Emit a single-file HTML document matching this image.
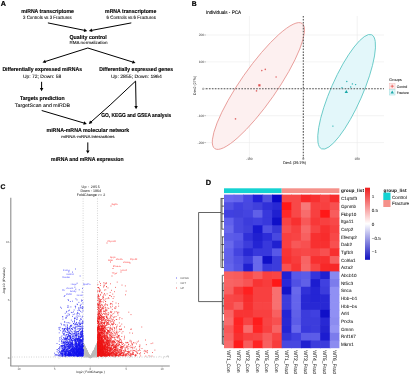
<!DOCTYPE html>
<html><head><meta charset="utf-8"><style>
html,body{margin:0;padding:0;background:#fff;overflow:hidden;}
svg{display:block;font-family:"Liberation Sans", sans-serif;will-change:transform;text-rendering:geometricPrecision;}
</style></head><body>
<svg width="410" height="374" viewBox="0 0 410 374">
<rect width="410" height="374" fill="#fff"/>
<text x="0.70" y="6.00" font-size="7.2" font-weight="bold" stroke="#000" stroke-width="0.2" fill="#000">A</text>
<text x="21.20" y="13.05" font-size="5.6" font-weight="bold" stroke="#000" stroke-width="0.12" textLength="52.70" lengthAdjust="spacingAndGlyphs" fill="#000">miRNA transcriptome</text>
<text x="23.10" y="18.90" font-size="4.8" stroke="#000" stroke-width="0.06" textLength="48.60" lengthAdjust="spacingAndGlyphs" fill="#000">3 Controls vs 3 Fractures</text>
<text x="105.10" y="13.05" font-size="5.6" font-weight="bold" stroke="#000" stroke-width="0.12" textLength="51.20" lengthAdjust="spacingAndGlyphs" fill="#000">mRNA transcriptome</text>
<text x="106.60" y="18.90" font-size="4.8" stroke="#000" stroke-width="0.06" textLength="49.30" lengthAdjust="spacingAndGlyphs" fill="#000">6 Controls vs 6 Fractures</text>
<text x="69.50" y="39.00" font-size="5.6" font-weight="bold" stroke="#000" stroke-width="0.12" textLength="37.30" lengthAdjust="spacingAndGlyphs" fill="#000">Quality control</text>
<text x="69.50" y="44.40" font-size="4.3" stroke="#000" stroke-width="0.06" textLength="38.10" lengthAdjust="spacingAndGlyphs" fill="#000">RMA normalization</text>
<text x="2.40" y="70.70" font-size="5.6" font-weight="bold" stroke="#000" stroke-width="0.12" textLength="79.70" lengthAdjust="spacingAndGlyphs" fill="#000">Differentially expressed miRNAs</text>
<text x="22.90" y="77.70" font-size="4.8" stroke="#000" stroke-width="0.06" textLength="38.40" lengthAdjust="spacingAndGlyphs" fill="#000">Up: 72; Down: 58</text>
<text x="99.20" y="70.70" font-size="5.6" font-weight="bold" stroke="#000" stroke-width="0.12" textLength="73.80" lengthAdjust="spacingAndGlyphs" fill="#000">Differentially expressed genes</text>
<text x="110.90" y="77.70" font-size="4.8" stroke="#000" stroke-width="0.06" textLength="50.90" lengthAdjust="spacingAndGlyphs" fill="#000">Up: 2855; Down: 1964</text>
<text x="19.90" y="100.00" font-size="5.6" font-weight="bold" stroke="#000" stroke-width="0.12" textLength="44.70" lengthAdjust="spacingAndGlyphs" fill="#000">Targets prediction</text>
<text x="14.80" y="107.10" font-size="5.0" stroke="#000" stroke-width="0.06" textLength="55.30" lengthAdjust="spacingAndGlyphs" fill="#000">TargetScan and miRDB</text>
<text x="46.50" y="132.00" font-size="5.6" font-weight="bold" stroke="#000" stroke-width="0.12" textLength="82.70" lengthAdjust="spacingAndGlyphs" fill="#000">miRNA-mRNA molecular network</text>
<text x="61.30" y="138.00" font-size="4.0" stroke="#000" stroke-width="0.06" textLength="53.30" lengthAdjust="spacingAndGlyphs" fill="#000">miRNA-mRNA interactions</text>
<text x="51.10" y="161.00" font-size="5.6" font-weight="bold" stroke="#000" stroke-width="0.12" textLength="72.50" lengthAdjust="spacingAndGlyphs" fill="#000">miRNA and mRNA expression</text>
<text x="101.20" y="117.40" font-size="5.6" font-weight="bold" stroke="#000" stroke-width="0.12" textLength="70.10" lengthAdjust="spacingAndGlyphs" fill="#000">GO, KEGG and GSEA analysis</text>
<line x1="47.90" y1="22.90" x2="84.36" y2="30.32" stroke="#000" stroke-width="1.0"/>
<path d="M87.20 30.90L83.72 31.98L84.41 28.55Z" fill="#000"/>
<line x1="131.30" y1="22.90" x2="91.75" y2="30.36" stroke="#000" stroke-width="1.0"/>
<path d="M88.90 30.90L91.72 28.59L92.37 32.03Z" fill="#000"/>
<line x1="87.80" y1="48.00" x2="45.26" y2="61.52" stroke="#000" stroke-width="1.0"/>
<path d="M42.50 62.40L45.02 59.76L46.08 63.10Z" fill="#000"/>
<line x1="87.80" y1="48.00" x2="132.73" y2="62.04" stroke="#000" stroke-width="1.0"/>
<path d="M135.50 62.90L131.92 63.62L132.97 60.28Z" fill="#000"/>
<line x1="41.60" y1="81.80" x2="41.60" y2="88.30" stroke="#000" stroke-width="1.0"/>
<path d="M41.60 91.20L39.85 88.00L43.35 88.00Z" fill="#000"/>
<line x1="41.70" y1="110.50" x2="84.02" y2="123.07" stroke="#000" stroke-width="1.0"/>
<path d="M86.80 123.90L83.23 124.67L84.23 121.31Z" fill="#000"/>
<line x1="135.60" y1="81.10" x2="110.10" y2="105.00" stroke="#000" stroke-width="1.0"/>
<line x1="110.10" y1="105.00" x2="90.97" y2="121.98" stroke="#000" stroke-width="1.0"/>
<path d="M88.80 123.90L90.03 120.47L92.36 123.09Z" fill="#000"/>
<line x1="135.60" y1="81.10" x2="136.05" y2="106.30" stroke="#000" stroke-width="1.0"/>
<path d="M136.10 109.20L134.29 106.03L137.79 105.97Z" fill="#000"/>
<line x1="87.80" y1="142.40" x2="87.80" y2="150.70" stroke="#000" stroke-width="1.0"/>
<path d="M87.80 153.60L86.05 150.40L89.55 150.40Z" fill="#000"/>
<text x="191.70" y="5.60" font-size="6.8" font-weight="bold" stroke="#000" stroke-width="0.2" fill="#000">B</text>
<text x="205.90" y="14.00" font-size="5.0" stroke="#111" stroke-width="0.12" textLength="35.20" lengthAdjust="spacingAndGlyphs" fill="#111">Individuals - PCA</text>
<line x1="249.40" y1="16.00" x2="249.40" y2="157.00" stroke="#ebebeb" stroke-width="0.6"/>
<line x1="303.30" y1="16.00" x2="303.30" y2="157.00" stroke="#ebebeb" stroke-width="0.6"/>
<line x1="357.20" y1="16.00" x2="357.20" y2="157.00" stroke="#ebebeb" stroke-width="0.6"/>
<line x1="206.00" y1="142.60" x2="384.00" y2="142.60" stroke="#ebebeb" stroke-width="0.6"/>
<line x1="206.00" y1="115.70" x2="384.00" y2="115.70" stroke="#ebebeb" stroke-width="0.6"/>
<line x1="206.00" y1="88.80" x2="384.00" y2="88.80" stroke="#ebebeb" stroke-width="0.6"/>
<line x1="206.00" y1="61.90" x2="384.00" y2="61.90" stroke="#ebebeb" stroke-width="0.6"/>
<line x1="206.00" y1="35.00" x2="384.00" y2="35.00" stroke="#ebebeb" stroke-width="0.6"/>
<ellipse cx="258.4" cy="86.0" rx="76.3" ry="18.0" transform="rotate(-55.07 258.4 86.0)" fill="#fdf0f0" stroke="#e69390" stroke-width="0.8"/>
<ellipse cx="346.6" cy="91.8" rx="62.3" ry="15.75" transform="rotate(-66.3 346.6 91.8)" fill="#e3f7fa" stroke="#5cc6c2" stroke-width="0.8"/>
<line x1="206.00" y1="88.80" x2="384.00" y2="88.80" stroke="#505050" stroke-width="1.05" stroke-dasharray="1.6 1.35"/>
<line x1="303.30" y1="16.00" x2="303.30" y2="158.50" stroke="#505050" stroke-width="1.05" stroke-dasharray="1.6 1.35"/>
<circle cx="261.8" cy="70.6" r="0.8" fill="#e06a6a"/>
<circle cx="265.3" cy="69.4" r="0.8" fill="#e06a6a"/>
<circle cx="276.1" cy="77.0" r="0.8" fill="#e06a6a"/>
<circle cx="256.5" cy="90.9" r="0.8" fill="#e06a6a"/>
<circle cx="235.5" cy="118.9" r="0.8" fill="#e06a6a"/>
<path d="M258.3 84.2h2.2v2.2h-2.2z" fill="#e05050"/>
<circle cx="346.8" cy="81.5" r="0.7" fill="#22b0b0"/>
<circle cx="352.4" cy="83.9" r="0.7" fill="#22b0b0"/>
<circle cx="355.6" cy="84.6" r="0.7" fill="#22b0b0"/>
<circle cx="342.0" cy="87.8" r="0.7" fill="#22b0b0"/>
<circle cx="350.7" cy="87.0" r="0.7" fill="#22b0b0"/>
<circle cx="332.9" cy="126.1" r="0.7" fill="#22b0b0"/>
<path d="M346.3 90.0L348.0 93.0L344.6 93.0Z" fill="#1aa8a8"/>
<text x="204.20" y="35.90" font-size="3.3" text-anchor="end" fill="#444">200</text>
<line x1="204.30" y1="35.00" x2="206.00" y2="35.00" stroke="#555" stroke-width="0.4"/>
<text x="204.20" y="62.80" font-size="3.3" text-anchor="end" fill="#444">100</text>
<line x1="204.30" y1="61.90" x2="206.00" y2="61.90" stroke="#555" stroke-width="0.4"/>
<text x="204.20" y="89.70" font-size="3.3" text-anchor="end" fill="#444">0</text>
<line x1="204.30" y1="88.80" x2="206.00" y2="88.80" stroke="#555" stroke-width="0.4"/>
<text x="204.20" y="116.60" font-size="3.3" text-anchor="end" fill="#444">-100</text>
<line x1="204.30" y1="115.70" x2="206.00" y2="115.70" stroke="#555" stroke-width="0.4"/>
<text x="204.20" y="143.50" font-size="3.3" text-anchor="end" fill="#444">-200</text>
<line x1="204.30" y1="142.60" x2="206.00" y2="142.60" stroke="#555" stroke-width="0.4"/>
<text x="249.40" y="160.40" font-size="3.3" text-anchor="middle" fill="#444">-100</text>
<line x1="249.40" y1="157.00" x2="249.40" y2="158.50" stroke="#555" stroke-width="0.4"/>
<text x="303.30" y="160.40" font-size="3.3" text-anchor="middle" fill="#444">0</text>
<line x1="303.30" y1="157.00" x2="303.30" y2="158.50" stroke="#555" stroke-width="0.4"/>
<text x="357.20" y="160.40" font-size="3.3" text-anchor="middle" fill="#444">100</text>
<line x1="357.20" y1="157.00" x2="357.20" y2="158.50" stroke="#555" stroke-width="0.4"/>
<text x="283.00" y="164.40" font-size="3.8" stroke="#222" stroke-width="0.06" textLength="23.00" lengthAdjust="spacingAndGlyphs" fill="#222">Dim1 (39.1%)</text>
<text transform="translate(195.6 95.0) rotate(-90)" font-size="3.8" fill="#222" textLength="19.3" lengthAdjust="spacingAndGlyphs">Dim2 (27%)</text>
<text x="389.20" y="81.30" font-size="3.9" stroke="#222" stroke-width="0.06" textLength="12.50" lengthAdjust="spacingAndGlyphs" fill="#222">Groups</text>
<rect x="389.4" y="83.4" width="5.6" height="5.6" fill="#fdeeee" stroke="#f3b8b5" stroke-width="0.5"/>
<path d="M392.2 84.6v3.2M390.6 86.2h3.2" stroke="#e8504b" stroke-width="0.8"/>
<rect x="389.4" y="89.4" width="5.6" height="5.6" fill="#e3f7fa" stroke="#99dede" stroke-width="0.5"/>
<path d="M392.2 90.6L393.9 93.5L390.5 93.5Z" fill="#1aa8a8"/>
<text x="396.80" y="87.70" font-size="3.6" stroke="#222" stroke-width="0.06" textLength="10.50" lengthAdjust="spacingAndGlyphs" fill="#222">Control</text>
<text x="396.80" y="93.60" font-size="3.6" stroke="#222" stroke-width="0.06" textLength="11.90" lengthAdjust="spacingAndGlyphs" fill="#222">Fracture</text>
<text x="0.50" y="188.90" font-size="6.8" font-weight="bold" stroke="#000" stroke-width="0.2" fill="#000">C</text>
<text x="90.60" y="187.80" font-size="3.6" stroke="#222" stroke-width="0.03" text-anchor="middle" textLength="18.10" lengthAdjust="spacing" fill="#222">Up : 2855</text>
<text x="90.70" y="191.70" font-size="3.6" stroke="#222" stroke-width="0.03" text-anchor="middle" textLength="20.60" lengthAdjust="spacing" fill="#222">Down : 1964</text>
<text x="91.00" y="195.50" font-size="3.6" stroke="#222" stroke-width="0.03" text-anchor="middle" textLength="28.30" lengthAdjust="spacing" fill="#222">FoldChange &gt;= 2</text>
<line x1="10.80" y1="197.70" x2="10.80" y2="366.00" stroke="#8c8c8c" stroke-width="1.1"/>
<line x1="10.30" y1="366.00" x2="169.80" y2="366.00" stroke="#8c8c8c" stroke-width="1.1"/>
<line x1="9.40" y1="242.40" x2="10.40" y2="242.40" stroke="#777" stroke-width="0.4"/>
<text x="9.20" y="243.40" font-size="2.8" text-anchor="end" fill="#555">10</text>
<line x1="9.40" y1="300.30" x2="10.40" y2="300.30" stroke="#777" stroke-width="0.4"/>
<text x="9.20" y="301.30" font-size="2.8" text-anchor="end" fill="#555">5</text>
<line x1="9.40" y1="358.20" x2="10.40" y2="358.20" stroke="#777" stroke-width="0.4"/>
<text x="9.20" y="359.20" font-size="2.8" text-anchor="end" fill="#555">0</text>
<line x1="18.50" y1="366.50" x2="18.50" y2="367.60" stroke="#777" stroke-width="0.4"/>
<text x="18.50" y="370.30" font-size="2.8" text-anchor="middle" fill="#555">-10</text>
<line x1="54.40" y1="366.50" x2="54.40" y2="367.60" stroke="#777" stroke-width="0.4"/>
<text x="54.40" y="370.30" font-size="2.8" text-anchor="middle" fill="#555">-5</text>
<line x1="90.30" y1="366.50" x2="90.30" y2="367.60" stroke="#777" stroke-width="0.4"/>
<text x="90.30" y="370.30" font-size="2.8" text-anchor="middle" fill="#555">0</text>
<line x1="126.20" y1="366.50" x2="126.20" y2="367.60" stroke="#777" stroke-width="0.4"/>
<text x="126.20" y="370.30" font-size="2.8" text-anchor="middle" fill="#555">5</text>
<line x1="162.10" y1="366.50" x2="162.10" y2="367.60" stroke="#777" stroke-width="0.4"/>
<text x="162.10" y="370.30" font-size="2.8" text-anchor="middle" fill="#555">10</text>
<text x="76.40" y="373.00" font-size="3.2" textLength="28.50" lengthAdjust="spacingAndGlyphs" fill="#222">log2 ( FoldChange )</text>
<text transform="translate(4.6 294.3) rotate(-90)" font-size="3.2" fill="#222" textLength="26.8" lengthAdjust="spacingAndGlyphs">-log10 (Pvalue)</text>
<line x1="83.12" y1="198.50" x2="83.12" y2="357.00" stroke="#999" stroke-width="0.5" stroke-dasharray="0.8 1.6"/>
<line x1="97.48" y1="198.50" x2="97.48" y2="357.00" stroke="#999" stroke-width="0.5" stroke-dasharray="0.8 1.6"/>
<line x1="12.00" y1="357.00" x2="169.00" y2="357.00" stroke="#999" stroke-width="0.5" stroke-dasharray="0.8 1.6"/>
<path d="M83.12 343.72L90.30 356.81L97.48 343.72L97.48 357.6L83.12 357.6Z" fill="#c6c6c6"/>
<path d="M89.6 356.5h0M96.4 348.2h0M90.4 357.4h0M85.8 350.4h0M92.2 354.1h0M84.5 350.0h0M84.4 346.3h0M93.1 356.0h0M97.2 343.3h0M92.5 353.8h0M85.4 355.7h0M90.7 357.3h0M85.9 352.3h0M83.6 347.2h0M89.4 355.9h0M90.6 357.1h0M90.3 357.6h0M89.7 356.9h0M97.4 342.7h0M95.2 348.7h0M87.6 354.5h0M87.3 355.4h0M94.1 352.1h0M95.3 350.5h0M96.9 344.7h0M83.1 349.6h0M96.2 348.5h0M97.2 347.6h0M84.2 346.9h0M94.3 352.7h0M84.4 349.6h0M97.0 345.1h0M84.8 351.1h0M84.6 353.7h0M94.6 353.1h0M91.2 356.3h0M85.9 349.4h0M85.0 348.3h0M84.8 349.5h0M86.2 352.5h0M97.1 344.6h0M87.5 352.0h0M86.1 351.6h0M95.4 348.7h0M84.6 345.6h0M86.2 352.6h0M94.2 352.4h0M87.4 355.5h0M84.4 347.7h0M86.6 351.3h0M88.5 354.8h0M96.9 347.3h0M91.4 355.5h0M85.7 353.1h0M96.2 346.3h0M86.7 353.7h0M93.7 350.6h0M85.9 348.7h0M95.8 348.2h0M89.2 356.7h0M83.7 343.9h0M86.5 350.8h0M86.8 350.9h0M91.7 355.8h0M85.6 349.1h0M84.1 350.4h0M91.2 355.9h0M91.9 355.6h0M96.3 351.0h0M83.4 349.0h0M89.5 357.1h0M85.7 351.1h0M91.3 356.7h0M88.3 353.7h0M97.2 345.4h0M93.0 353.0h0M85.1 354.8h0M83.4 343.6h0M93.2 351.7h0M83.4 345.6h0M90.0 357.1h0M87.7 352.2h0M84.2 347.6h0M93.7 350.8h0M93.7 351.4h0M94.5 349.1h0M88.2 353.8h0M96.1 346.2h0M89.1 355.4h0M95.5 348.9h0M92.1 355.1h0M91.5 355.6h0M84.3 347.1h0M97.4 343.5h0M93.6 352.9h0M93.7 351.9h0M89.4 356.0h0M84.3 346.5h0M83.5 346.1h0M90.0 357.3h0M93.1 353.1h0M91.9 354.3h0M86.8 356.4h0M87.4 352.5h0M86.0 353.2h0M96.1 347.3h0M89.5 356.0h0M87.8 353.2h0M86.0 351.1h0M94.7 348.7h0M95.8 349.8h0M91.5 356.0h0M85.1 349.3h0M95.1 348.1h0M93.3 351.4h0M87.1 354.3h0M89.6 356.7h0M86.2 351.6h0M92.1 354.8h0M87.6 352.4h0M97.2 347.1h0M84.2 354.4h0M95.7 354.5h0M93.3 352.6h0M87.6 352.4h0M83.4 351.1h0M89.7 357.3h0M95.0 352.0h0M85.1 354.4h0M92.2 354.8h0M92.2 354.3h0M94.7 348.5h0M92.9 354.7h0M89.9 357.2h0M83.3 346.7h0M93.4 354.4h0M87.0 353.1h0M93.1 353.0h0M91.9 354.5h0M88.8 354.7h0M96.1 353.0h0M96.5 346.2h0M85.0 349.5h0M92.1 354.0h0M88.5 354.7h0M95.7 347.2h0M96.7 347.8h0M92.5 355.2h0M93.5 351.5h0M92.3 353.9h0M86.2 349.3h0M97.2 343.3h0M90.8 356.6h0M87.7 352.4h0M95.4 350.6h0M84.3 348.6h0M91.0 356.3h0M90.1 357.5h0M94.7 354.5h0M94.6 353.1h0M87.9 353.1h0M85.1 352.6h0M90.5 357.2h0M95.2 348.8h0M96.7 347.5h0M96.7 352.6h0M86.3 351.1h0M87.3 352.1h0M92.3 354.4h0M95.2 349.4h0M87.6 353.8h0M95.3 347.7h0M86.1 349.4h0M97.0 346.7h0M91.3 356.5h0M90.8 356.8h0M91.8 356.9h0M97.0 346.8h0M88.9 354.9h0M91.2 356.2h0M93.0 355.7h0M90.9 356.8h0M96.9 344.3h0M87.0 352.5h0M84.9 349.6h0M94.8 348.5h0M90.0 357.2h0M85.9 350.0h0M96.4 352.0h0M94.3 355.8h0M85.9 352.5h0M93.0 354.0h0M88.2 354.0h0M84.6 347.1h0M84.9 348.9h0M86.7 353.7h0M90.7 357.0h0M88.5 355.0h0M90.7 357.2h0M86.1 350.2h0M92.3 354.4h0M95.3 348.9h0M95.4 351.6h0M93.8 351.0h0M96.1 350.0h0M87.6 352.2h0M86.3 349.1h0M95.9 352.4h0M86.6 350.7h0M86.8 354.8h0M95.1 350.5h0M94.5 353.8h0M88.9 355.1h0M83.4 350.0h0M92.9 352.3h0M97.0 351.7h0M90.4 357.5h0M90.3 357.5h0M85.8 354.4h0M84.6 354.4h0M91.0 356.4h0M91.3 356.7h0M85.8 352.6h0M95.2 347.4h0M96.4 352.6h0M84.0 344.7h0M89.8 356.6h0M87.8 353.8h0M90.5 357.3h0M91.7 357.1h0M93.2 352.0h0M85.7 350.6h0M93.7 352.6h0M85.9 353.2h0M90.5 357.5h0M95.9 346.8h0M93.2 351.8h0M92.2 354.9h0M91.7 355.3h0M97.2 344.3h0M86.8 350.6h0M93.8 351.0h0M94.8 351.0h0M96.0 346.3h0M93.1 352.3h0M94.1 352.1h0M93.5 355.3h0M88.0 354.1h0M83.3 347.9h0M92.3 354.2h0M86.5 349.7h0M92.7 354.4h0M92.6 353.8h0M90.8 356.9h0M97.5 345.0h0M93.2 352.2h0M97.2 354.4h0M92.0 354.5h0M86.8 352.5h0M83.8 350.6h0M88.5 356.1h0M86.7 350.4h0M91.0 356.5h0M97.0 346.4h0M97.4 345.2h0M94.7 354.3h0M91.7 355.0h0M83.8 344.3h0M85.4 350.0h0M85.5 350.1h0M91.9 356.5h0M96.7 348.1h0M90.7 357.0h0M88.4 355.2h0M92.5 353.9h0M87.2 351.9h0M87.4 356.5h0M86.6 355.4h0M85.4 348.4h0M88.7 354.4h0M93.9 355.4h0M97.3 343.2h0M84.2 345.3h0M89.3 356.0h0M97.1 349.5h0M90.6 356.9h0M93.5 352.7h0M97.2 344.3h0M91.8 356.3h0M92.1 354.9h0M86.0 354.9h0M90.7 357.3h0M89.5 356.2h0M89.7 356.8h0M91.5 355.9h0M94.3 351.1h0M97.4 342.9h0M93.7 353.6h0M84.8 346.5h0M94.4 350.5h0M88.3 355.1h0M93.0 353.2h0M91.6 355.3h0M93.9 353.7h0M86.7 350.1h0M96.3 345.7h0M83.7 353.1h0M87.0 352.7h0M92.1 356.1h0M90.9 357.2h0M84.4 347.0h0M91.0 356.4h0M88.5 354.8h0M86.1 351.9h0M93.8 350.8h0M84.2 352.1h0M94.7 349.9h0M94.2 353.3h0M89.2 356.3h0M94.7 351.4h0M92.5 353.0h0M87.8 353.5h0M93.8 350.5h0M89.3 356.2h0M84.5 346.1h0M84.2 352.9h0M91.2 356.2h0M93.0 354.2h0M94.3 354.7h0M86.2 350.3h0M84.3 349.8h0M93.5 351.8h0M87.2 354.6h0M88.3 353.9h0M88.4 355.9h0M93.3 352.6h0M96.3 345.3h0M96.2 348.7h0M94.7 351.9h0M87.7 353.8h0M96.5 345.1h0M86.7 352.6h0M88.4 354.9h0M88.8 355.5h0M85.9 350.3h0M94.6 350.6h0M95.1 349.6h0M85.7 348.9h0M95.8 350.7h0M83.4 346.6h0M90.9 356.6h0M97.0 345.8h0M94.7 354.6h0M91.0 356.3h0M84.3 353.0h0M93.7 350.8h0M84.3 347.2h0M85.2 348.1h0M92.4 355.1h0M86.3 350.1h0M90.6 357.0h0M88.8 355.6h0M97.0 345.6h0M90.2 357.5h0M93.5 351.8h0M96.3 348.9h0M95.0 349.3h0M95.4 347.9h0M95.1 348.0h0M96.9 346.1h0M90.6 357.0h0M94.6 351.2h0M89.2 356.5h0M93.8 350.4h0M88.5 355.8h0M86.1 351.3h0M87.3 351.4h0M84.0 349.3h0M84.8 347.9h0M94.3 353.4h0M84.0 348.0h0M91.5 355.2h0M83.6 351.9h0M85.8 352.5h0M86.5 350.6h0M91.7 356.1h0M85.8 351.9h0M85.6 348.8h0M87.6 353.2h0M94.9 350.5h0M86.9 350.7h0M96.2 349.5h0M91.0 356.2h0M90.1 357.3h0M83.8 344.4h0M94.6 351.4h0M90.7 357.0h0M87.1 350.9h0M92.6 355.0h0M83.3 346.7h0M88.5 354.1h0M93.4 352.4h0M85.4 352.7h0M87.7 354.5h0M95.6 349.1h0M92.3 353.5h0M86.9 352.1h0M85.3 348.1h0M83.1 343.7h0M95.3 348.0h0M84.3 350.2h0M93.4 355.1h0M90.0 357.2h0M96.8 346.5h0M95.4 350.9h0M94.5 351.5h0M96.3 352.8h0M95.0 352.4h0M90.9 356.6h0M85.4 348.0h0M87.6 354.1h0M84.2 349.7h0M89.8 356.8h0M88.3 354.0h0M84.6 349.4h0M89.8 356.5h0M95.0 349.2h0M83.3 347.7h0M93.3 354.1h0M91.2 356.2h0M83.3 342.9h0M94.6 352.8h0M92.0 355.5h0M88.5 354.7h0M87.4 353.7h0M88.8 354.9h0M86.8 353.8h0M93.6 353.2h0M96.7 347.0h0M93.5 353.3h0M95.0 353.8h0M85.1 353.4h0M92.9 353.0h0M85.7 350.9h0M95.1 349.4h0M84.4 350.8h0M85.4 353.1h0M89.0 356.6h0M96.3 348.6h0M90.5 357.3h0M94.1 350.2h0M88.7 355.4h0M89.0 357.1h0M88.9 355.0h0M97.2 344.4h0M92.6 353.7h0M83.4 348.3h0M88.0 353.6h0M84.6 349.6h0M90.4 357.4h0M95.0 349.6h0M85.4 348.4h0M96.1 348.1h0M88.2 354.3h0M85.2 348.2h0M97.3 346.4h0M93.4 351.6h0M86.0 348.7h0M92.1 355.6h0M84.3 350.5h0M91.4 355.6h0M87.8 352.6h0M88.3 354.5h0M84.9 346.4h0M85.1 347.1h0M90.9 356.6h0M91.2 356.6h0M96.2 345.3h0M94.9 349.8h0M84.9 347.1h0M87.3 351.5h0M86.6 351.4h0M95.0 352.5h0M91.0 357.1h0M83.6 350.5h0M97.3 343.3h0M92.6 354.6h0M92.8 353.1h0M88.6 354.7h0M94.7 355.9h0M86.0 350.9h0M85.2 350.3h0M91.3 356.6h0M90.6 357.3h0M91.3 356.3h0M92.3 356.5h0M92.8 355.2h0M96.9 346.3h0M89.9 357.0h0M92.1 354.4h0M94.0 350.7h0M90.1 357.2h0M95.2 348.1h0M89.0 355.7h0M91.2 355.7h0M90.7 357.0h0M89.3 355.7h0M87.7 355.9h0M93.5 351.1h0M93.6 351.9h0M93.9 352.9h0M91.6 356.7h0M84.9 349.4h0M90.3 357.6h0M83.9 346.0h0M90.7 357.2h0M87.5 353.6h0M86.5 354.9h0M96.2 345.4h0M92.7 352.9h0M89.2 355.5h0M86.3 350.2h0M91.3 355.7h0M84.5 346.6h0M84.9 348.8h0M96.8 356.9h0M86.6 352.9h0M87.8 355.9h0M96.0 346.7h0M88.8 355.6h0M91.5 356.9h0M83.6 344.1h0M87.5 353.2h0M96.5 344.7h0M89.9 357.2h0M87.4 351.7h0M96.0 351.4h0M95.2 350.9h0M89.9 357.2h0M95.8 346.2h0M86.0 350.2h0M85.9 348.8h0M83.8 352.1h0M93.5 353.3h0M96.0 346.2h0M93.4 354.7h0M93.1 351.9h0M89.5 357.0h0M86.3 352.4h0M93.3 354.3h0M85.7 352.2h0M92.7 353.1h0M88.5 354.4h0M95.8 348.2h0M86.4 352.6h0M96.4 346.7h0M87.1 352.0h0M84.4 345.4h0M89.4 356.2h0M90.7 357.4h0M91.7 355.8h0M86.7 350.8h0M84.4 350.1h0M94.0 353.2h0M87.1 352.4h0M85.8 348.6h0M97.3 353.8h0M89.7 356.6h0M88.6 354.3h0M90.3 357.6h0M91.1 356.2h0M88.3 354.0h0M94.4 351.1h0M90.4 357.5h0M92.9 353.3h0M96.8 350.9h0M94.3 353.5h0M91.9 355.8h0M89.4 356.0h0M94.4 349.8h0M86.5 351.6h0M86.3 350.9h0M90.3 357.6h0M91.7 355.1h0M91.3 355.5h0M85.7 353.1h0M83.4 346.7h0M89.4 356.2h0M86.9 351.1h0M84.2 345.2h0M91.3 356.0h0M94.5 352.7h0M85.2 350.9h0M83.7 348.9h0M92.0 354.8h0M86.9 351.9h0M84.4 346.2h0M85.6 351.9h0M85.4 348.8h0M95.1 348.6h0M84.0 348.4h0M88.4 355.4h0M97.1 353.6h0M90.1 357.3h0M97.3 350.9h0M89.7 356.4h0M83.7 349.8h0M95.9 352.2h0M88.8 355.6h0M89.2 356.8h0M83.6 343.6h0M94.1 350.6h0M86.4 352.9h0M91.0 356.7h0M89.7 356.5h0M88.3 355.0h0M97.2 345.7h0M83.7 348.0h0M92.5 356.2h0M88.0 353.5h0M95.5 348.7h0M95.8 349.1h0M88.8 354.6h0M88.6 354.4h0M86.2 352.0h0M85.8 350.1h0M85.5 352.3h0M86.2 351.3h0M87.6 353.4h0M97.4 344.9h0M95.5 351.8h0M88.6 356.4h0M93.0 353.8h0M87.1 356.2h0M85.7 352.0h0M88.8 354.5h0M93.4 353.8h0M88.3 355.6h0M96.6 348.9h0M94.1 350.6h0M96.1 355.0h0M87.7 354.0h0M84.3 345.7h0M87.8 352.9h0M90.6 357.4h0M88.8 355.8h0M83.7 351.1h0M91.7 356.9h0M87.6 353.6h0M90.9 357.0h0M93.3 354.0h0M93.5 351.9h0M85.2 352.0h0M87.1 351.8h0M88.9 355.7h0M95.6 351.5h0M87.3 353.5h0M86.2 355.2h0M83.5 345.7h0M91.2 355.8h0M97.1 348.8h0M92.7 352.7h0M86.2 350.3h0M92.7 352.7h0M95.6 351.4h0M92.2 356.1h0M89.3 356.1h0M84.0 348.6h0M87.8 353.7h0M87.1 354.4h0M88.9 355.4h0M85.5 349.1h0M86.6 354.6h0M88.0 354.2h0M85.3 349.2h0M93.2 352.8h0M93.2 356.3h0M88.7 355.4h0M84.0 348.5h0M83.9 347.5h0M91.5 355.7h0M87.8 354.6h0M83.5 348.2h0M95.9 348.2h0M86.9 351.5h0M85.8 350.6h0M92.0 354.2h0M88.3 354.3h0M96.7 345.6h0M92.1 354.5h0M89.0 355.7h0M87.1 351.4h0M95.8 349.8h0M96.2 354.3h0M85.1 349.3h0M87.6 353.8h0M97.1 350.9h0M85.9 352.5h0M92.9 354.6h0M83.1 345.8h0M88.8 355.8h0M90.2 357.5h0M91.0 356.4h0M91.2 355.9h0M97.0 348.5h0M88.1 353.2h0M87.6 352.7h0M93.1 352.6h0M97.0 344.7h0M85.4 349.1h0M90.2 357.4h0M88.4 355.2h0M93.9 351.8h0M86.5 353.1h0M87.8 355.0h0M90.5 357.4h0M84.0 353.1h0M84.6 347.2h0M84.7 349.1h0M94.2 351.5h0M85.5 348.0h0M95.6 354.2h0M86.8 352.0h0M94.6 351.5h0M93.4 353.9h0M93.4 353.5h0M87.9 353.1h0M95.2 348.1h0M91.3 356.2h0M93.3 352.5h0M95.1 348.5h0M84.9 350.0h0M92.7 354.8h0M85.8 355.9h0M91.5 355.1h0M97.1 351.3h0M93.0 353.6h0M92.2 354.9h0M96.5 344.6h0M83.8 345.8h0M84.8 354.4h0M87.2 351.9h0M97.4 351.3h0M87.9 356.4h0M90.9 356.7h0M88.5 355.2h0M94.6 349.2h0M87.2 353.1h0M92.0 354.4h0M97.2 347.7h0M93.1 353.0h0M94.6 353.4h0M85.6 353.6h0M96.5 350.1h0M90.1 357.5h0M87.8 356.5h0M91.2 356.7h0M92.1 355.4h0M86.4 351.5h0M88.4 355.3h0M83.9 353.1h0M95.9 350.2h0M84.2 351.2h0M90.1 357.1h0M86.0 349.2h0M90.1 357.3h0M94.7 351.2h0M83.9 347.1h0M92.6 353.7h0M87.1 351.1h0M95.5 346.7h0M89.5 356.0h0M93.5 354.2h0M83.5 350.6h0M84.8 353.6h0M88.3 353.8h0M87.6 353.2h0M83.3 349.7h0M96.9 355.3h0M90.7 356.9h0M94.5 349.8h0M88.9 354.8h0M95.0 348.7h0M97.3 351.8h0M96.8 348.2h0M93.2 354.1h0M96.2 354.9h0M91.4 356.3h0M88.7 355.4h0M92.6 353.3h0M88.4 354.2h0M88.2 355.0h0M96.1 349.9h0M84.5 349.7h0M93.8 353.7h0M93.8 351.9h0M92.9 354.9h0M84.6 352.2h0M88.2 354.4h0M83.3 346.4h0M88.9 355.8h0M90.8 356.5h0M86.1 349.2h0M87.7 352.8h0M84.7 345.9h0M89.3 355.5h0M86.3 351.7h0M93.3 354.5h0M87.0 351.8h0M96.7 349.1h0M85.8 351.3h0M97.3 350.8h0M92.2 354.9h0M92.4 355.3h0M92.0 354.3h0M95.4 348.7h0M90.4 357.5h0M84.8 346.8h0M93.0 353.5h0M92.7 354.1h0M88.6 355.7h0M91.7 355.2h0M90.5 357.5h0M92.1 354.8h0M91.6 355.3h0M96.5 351.5h0M89.9 356.7h0M93.7 353.1h0M93.7 350.5h0M88.9 354.8h0M84.9 346.4h0M90.2 357.5h0M95.2 349.0h0M96.6 345.4h0M94.6 350.8h0M97.4 352.6h0M95.6 347.9h0M86.7 350.7h0M89.6 356.5h0M95.5 351.9h0M87.1 352.1h0M84.2 347.5h0M94.4 351.1h0M86.6 350.5h0M95.4 348.0h0M91.0 356.2h0M94.6 353.4h0M88.4 356.0h0M83.6 348.5h0M95.5 347.4h0M84.8 351.8h0M88.7 354.5h0M92.0 354.2h0M84.2 344.8h0M86.1 350.3h0M95.7 347.6h0M85.9 349.9h0M89.3 357.2h0M88.0 354.6h0M92.2 355.3h0M91.8 354.9h0M85.7 353.4h0M93.1 353.3h0M85.0 352.9h0M96.6 346.7h0M88.3 355.4h0M97.4 344.8h0M93.7 352.9h0M87.6 353.6h0M85.2 348.8h0M89.2 355.5h0M89.0 355.6h0M90.4 357.4h0M88.1 353.6h0M86.5 351.2h0M87.2 351.5h0M87.2 351.6h0M92.8 353.7h0M96.5 348.7h0M93.8 351.6h0M89.6 357.1h0M89.1 356.2h0M89.5 355.9h0M87.3 352.2h0M92.8 354.7h0M89.0 356.4h0M96.0 350.8h0M89.2 356.1h0M94.9 348.6h0M91.6 355.5h0M84.5 346.1h0M84.4 349.4h0M88.5 354.3h0M92.7 354.3h0M96.0 345.9h0M83.5 345.7h0M89.9 357.0h0M89.8 357.0h0M92.8 353.4h0M97.1 343.6h0M97.4 347.4h0M95.0 349.3h0M93.2 351.6h0M84.1 348.0h0M88.9 355.1h0M86.3 349.2h0M86.1 351.7h0M85.2 350.2h0M93.8 354.9h0M85.5 349.2h0M92.1 354.3h0M86.8 350.8h0M93.6 351.3h0M84.8 349.2h0M83.3 343.9h0M96.7 344.8h0M83.5 348.2h0M90.8 356.8h0M84.7 347.0h0M87.5 353.1h0M84.9 348.6h0M85.0 353.4h0M90.5 357.4h0M94.3 352.8h0M89.1 356.8h0M86.2 351.4h0M91.1 356.3h0M95.3 353.3h0M95.3 352.6h0M97.1 346.7h0M89.0 355.3h0M95.5 346.8h0M89.1 357.2h0M85.3 348.0h0M93.7 351.5h0M85.4 349.6h0M83.5 351.7h0M87.4 351.7h0M92.4 353.6h0M83.8 348.0h0M84.2 350.2h0M84.7 346.3h0M87.8 353.7h0M92.5 353.2h0M96.7 346.9h0M90.3 357.6h0M88.8 355.7h0M93.7 353.4h0M88.4 354.8h0M90.0 357.2h0M89.3 356.1h0M83.8 345.0h0M84.0 347.4h0M91.0 356.6h0M86.3 354.3h0M88.5 355.2h0M90.1 357.4h0M93.9 352.0h0M83.2 347.3h0M97.0 355.7h0M91.6 354.9h0M88.4 354.3h0M88.4 355.2h0M91.9 355.0h0M87.6 353.4h0M90.5 357.2h0M83.9 352.4h0M86.7 353.2h0M94.5 351.3h0M95.5 350.1h0M87.2 352.1h0M84.3 345.2h0M95.1 351.2h0M87.7 352.5h0M94.4 350.3h0M83.9 345.6h0M83.8 346.3h0M91.0 356.1h0M92.3 356.7h0M96.5 345.9h0M91.4 357.3h0M93.7 352.6h0M92.9 352.2h0M96.3 353.2h0M94.3 351.5h0M93.9 352.5h0M89.5 356.5h0M84.8 350.3h0M93.7 355.2h0M84.8 346.9h0M92.7 353.7h0M84.7 352.7h0M87.6 352.0h0M91.2 355.9h0M86.2 351.5h0M90.8 356.6h0M84.9 346.9h0M89.9 357.4h0M89.3 356.2h0M92.8 352.5h0M90.2 357.5h0M88.7 354.6h0M84.6 347.1h0M85.5 349.5h0M86.0 351.8h0M85.5 351.0h0M91.6 355.5h0M88.7 354.9h0M95.2 350.8h0M91.5 355.7h0M97.2 348.4h0M93.1 354.3h0M86.9 351.3h0M91.4 356.3h0M84.0 345.5h0M88.5 354.4h0M89.3 356.0h0M91.2 355.8h0M96.2 348.6h0M90.1 357.4h0M93.9 354.6h0M87.5 352.2h0M83.6 345.5h0M91.3 356.0h0M87.9 355.3h0M96.8 345.4h0M94.7 354.0h0M94.4 353.0h0M86.0 350.6h0M91.9 356.2h0M94.1 351.2h0M96.0 346.0h0M93.0 353.8h0M96.8 345.7h0M87.3 351.7h0M93.6 353.6h0M86.7 356.0h0M90.8 357.0h0M87.3 354.0h0M85.0 349.3h0M87.0 353.5h0M87.1 352.5h0M95.7 352.2h0M95.5 347.5h0M91.9 355.0h0M93.7 352.1h0M92.6 353.0h0M94.3 352.8h0M83.9 344.5h0M88.3 353.9h0M86.5 351.8h0M88.4 354.2h0M96.7 347.5h0M91.2 356.3h0M86.5 349.7h0M84.7 346.2h0M92.6 356.0h0M96.1 352.8h0M91.2 356.8h0M97.3 348.4h0M95.6 354.0h0M92.7 355.9h0M83.5 346.3h0M97.2 345.1h0M95.4 347.9h0M90.6 357.4h0M90.7 357.2h0M90.7 357.1h0M90.3 357.6h0M93.2 353.3h0M90.1 357.5h0M90.1 357.3h0M97.1 346.3h0M85.1 350.8h0M87.9 353.3h0M96.6 344.5h0M96.8 344.5h0M95.5 347.1h0M83.4 346.8h0M91.6 355.3h0M91.9 354.8h0M96.5 352.7h0M90.6 357.1h0M83.6 351.8h0M95.6 346.7h0M83.5 354.0h0M95.0 349.1h0M90.6 357.1h0M94.0 350.5h0M83.1 352.5h0M94.5 348.9h0M95.1 350.6h0M87.9 354.4h0M83.3 344.5h0M86.9 351.8h0M90.7 357.1h0M92.8 353.8h0M86.5 350.0h0M85.6 353.0h0M86.8 352.1h0M94.4 352.1h0M86.5 351.0h0M86.9 352.1h0M86.8 350.6h0M85.8 352.3h0M87.4 353.8h0M93.6 351.8h0M94.5 350.8h0M84.2 346.2h0M86.6 353.4h0M89.1 355.1h0M88.4 355.0h0M96.2 345.3h0M88.7 356.1h0M94.5 349.7h0M88.0 353.2h0M88.6 355.4h0M91.6 355.1h0M90.0 357.0h0M83.3 346.5h0M88.6 356.4h0M96.3 351.9h0M86.1 349.2h0M96.9 344.1h0M88.0 353.0h0M85.2 348.2h0M96.7 350.7h0M85.1 348.2h0M95.8 347.5h0M96.8 347.8h0M88.5 356.0h0M87.0 351.0h0M84.1 351.1h0M88.1 356.2h0M87.5 354.7h0M84.9 348.8h0M90.9 356.7h0M94.1 351.5h0M96.7 352.7h0M86.3 354.6h0M87.6 352.5h0M96.4 347.9h0M85.4 351.1h0M91.3 356.4h0M94.5 348.9h0M89.7 356.6h0M95.3 350.0h0M85.9 348.5h0M97.2 354.4h0M94.1 352.1h0M83.9 351.1h0M85.6 348.9h0M86.2 355.8h0M86.3 349.9h0M90.3 357.6h0M89.8 357.1h0M83.3 348.6h0M83.7 349.6h0M92.0 355.2h0M89.9 356.9h0M87.7 354.0h0M95.8 348.3h0M89.1 355.7h0M89.7 356.9h0M96.2 350.7h0M96.6 345.3h0M95.8 352.1h0M90.4 357.4h0M87.3 354.5h0M93.5 353.9h0M91.5 356.4h0M96.7 349.5h0M84.5 347.2h0M88.1 354.0h0M90.3 357.5h0M90.5 357.3h0M83.1 346.3h0M87.0 352.1h0M92.2 354.7h0M84.4 348.3h0M90.0 357.2h0M97.1 349.1h0M89.5 357.0h0M94.6 352.6h0M95.0 348.6h0M86.8 350.5h0M90.4 357.5h0M91.1 356.0h0M90.2 357.4h0M87.3 351.7h0M90.3 357.6h0M85.9 352.7h0M95.1 348.4h0M97.2 343.7h0M93.0 352.5h0M93.3 351.8h0M94.6 353.1h0M94.8 351.7h0M86.6 350.2h0M83.4 346.6h0M131.3 356.7h0M164.4 356.7h0M168.0 356.2h0M115.7 356.8h0M168.2 356.8h0M159.8 356.4h0M113.6 356.6h0M81.5 357.8h0M66.5 356.8h0M131.0 356.6h0M59.4 356.1h0M62.3 356.0h0M166.6 356.4h0M105.3 357.7h0M102.2 358.0h0M62.4 356.0h0M114.8 357.4h0M58.7 356.0h0M135.3 356.0h0M113.0 356.1h0M163.3 358.0h0M128.6 356.6h0M139.6 357.2h0M154.0 356.8h0M116.7 356.4h0M167.5 356.0h0M147.3 357.2h0M54.2 356.7h0M100.8 356.6h0M65.5 356.9h0M98.7 358.0h0M149.9 356.8h0M168.3 356.2h0M59.0 358.1h0M150.6 356.2h0M64.6 356.4h0M129.7 357.4h0" stroke="#bcbcbc" stroke-width="0.8" stroke-linecap="round" fill="none" opacity="1.0"/>
<path d="M78.3 351.2h0M75.3 351.8h0M82.8 340.2h0M77.0 350.8h0M63.2 330.4h0M73.0 344.7h0M64.9 353.9h0M78.6 344.8h0M80.4 345.3h0M83.0 310.7h0M78.4 343.1h0M69.6 354.5h0M75.3 355.2h0M82.9 328.5h0M65.7 347.6h0M73.1 347.3h0M72.1 340.8h0M75.6 343.3h0M58.5 348.6h0M65.2 353.4h0M82.3 321.7h0M83.0 349.9h0M66.7 346.3h0M79.9 338.3h0M79.9 346.9h0M65.2 348.0h0M66.1 352.9h0M70.0 343.9h0M78.8 336.8h0M80.0 348.8h0M69.8 352.5h0M62.8 333.1h0M80.4 354.7h0M69.3 339.0h0M75.7 354.5h0M67.7 337.4h0M70.7 355.3h0M82.4 332.6h0M81.4 350.4h0M70.9 347.9h0M80.3 305.4h0M74.8 317.7h0M73.6 351.1h0M78.3 344.5h0M68.6 352.9h0M74.4 333.2h0M80.9 352.7h0M82.5 343.7h0M76.3 335.8h0M62.3 352.9h0M64.8 347.1h0M81.0 343.7h0M71.9 354.3h0M82.4 350.5h0M80.2 348.2h0M78.3 354.0h0M73.2 353.7h0M75.1 335.5h0M75.3 349.5h0M75.4 346.4h0M78.5 343.9h0M74.6 349.7h0M73.2 349.0h0M76.6 355.1h0M81.7 353.8h0M80.7 354.1h0M69.8 333.5h0M81.3 341.6h0M66.8 352.0h0M74.8 327.9h0M65.4 354.8h0M66.4 353.7h0M78.4 349.4h0M68.7 352.2h0M74.8 324.1h0M75.5 340.7h0M65.6 350.6h0M81.4 344.6h0M72.1 353.2h0M82.2 346.1h0M78.0 355.3h0M75.2 340.8h0M81.4 345.9h0M70.6 337.7h0M83.1 338.8h0M81.1 355.5h0M76.4 319.6h0M64.4 354.5h0M59.9 346.6h0M77.0 348.1h0M82.6 342.9h0M62.5 349.9h0M69.5 327.9h0M82.1 355.7h0M57.0 343.5h0M76.6 344.7h0M79.4 349.9h0M79.0 350.0h0M78.9 308.7h0M78.4 353.3h0M79.0 355.8h0M70.9 349.8h0M70.1 355.6h0M81.7 333.9h0M69.9 335.6h0M69.7 341.5h0M83.0 337.0h0M76.4 356.0h0M81.4 352.4h0M73.0 335.4h0M81.7 354.1h0M70.6 355.5h0M76.5 348.9h0M78.2 348.0h0M79.0 346.6h0M79.8 353.2h0M77.2 352.1h0M80.3 324.0h0M66.7 352.5h0M82.7 329.2h0M66.2 341.3h0M63.4 343.6h0M66.7 334.9h0M68.6 310.8h0M65.6 346.9h0M65.1 330.5h0M80.1 336.0h0M80.8 319.0h0M80.4 339.7h0M82.0 346.2h0M72.4 355.6h0M63.7 334.5h0M78.3 343.8h0M82.1 335.2h0M81.0 353.4h0M68.5 300.4h0M73.6 355.0h0M63.6 342.6h0M78.9 353.6h0M73.7 353.6h0M62.6 339.6h0M71.7 355.4h0M80.7 351.7h0M78.1 342.2h0M74.5 350.7h0M72.8 344.2h0M80.8 345.7h0M82.4 355.0h0M81.1 349.0h0M68.2 347.0h0M68.8 344.7h0M80.5 332.0h0M66.2 344.5h0M70.4 354.1h0M82.9 350.3h0M76.6 347.0h0M71.3 346.8h0M70.3 301.5h0M64.2 349.6h0M67.0 352.1h0M78.2 350.3h0M82.8 352.0h0M74.6 351.5h0M77.9 340.7h0M78.2 331.5h0M75.2 331.8h0M68.9 331.3h0M81.0 344.5h0M77.8 324.9h0M77.8 339.8h0M63.6 350.5h0M77.0 339.2h0M78.3 350.5h0M82.0 328.0h0M65.8 326.9h0M80.4 346.5h0M76.4 338.9h0M76.7 349.7h0M82.9 333.9h0M76.7 348.4h0M74.5 340.9h0M71.0 351.6h0M69.7 355.9h0M74.0 349.9h0M59.0 355.8h0M82.8 346.9h0M73.1 346.6h0M62.6 346.8h0M78.9 345.5h0M80.1 351.8h0M68.4 352.9h0M70.0 338.6h0M83.1 345.7h0M80.2 353.6h0M81.3 353.8h0M63.3 345.8h0M79.7 340.9h0M81.1 332.7h0M76.6 354.0h0M64.7 354.2h0M78.5 338.5h0M77.1 355.6h0M80.4 347.0h0M73.4 350.9h0M77.8 351.6h0M73.2 314.6h0M81.0 347.8h0M82.3 338.1h0M82.3 351.8h0M68.1 299.6h0M77.4 341.0h0M69.2 350.4h0M79.1 349.0h0M71.8 349.4h0M71.7 339.3h0M63.1 356.1h0M70.7 350.6h0M70.9 354.2h0M77.7 338.4h0M81.6 348.6h0M68.9 354.4h0M74.9 347.3h0M74.0 355.4h0M69.3 354.6h0M73.2 355.5h0M77.0 347.6h0M82.2 352.4h0M61.2 336.9h0M59.9 337.5h0M81.0 355.4h0M63.8 330.2h0M82.7 350.4h0M68.4 345.5h0M80.7 340.0h0M75.4 352.6h0M72.6 344.1h0M74.7 352.3h0M62.8 351.5h0M78.8 353.6h0M79.0 353.7h0M81.4 352.4h0M81.8 340.6h0M81.5 355.7h0M71.3 340.4h0M72.6 352.9h0M77.7 339.0h0M70.0 347.0h0M79.6 324.4h0M82.4 338.3h0M74.0 353.8h0M68.1 355.4h0M73.3 333.8h0M76.3 354.0h0M73.5 323.5h0M70.2 354.8h0M79.8 353.1h0M73.9 351.7h0M74.0 352.0h0M78.5 344.6h0M78.3 350.0h0M78.5 353.9h0M80.8 350.2h0M77.0 351.1h0M77.6 339.5h0M75.7 341.3h0M63.5 339.1h0M79.8 344.6h0M79.6 348.9h0M82.4 334.5h0M78.9 341.2h0M82.2 350.4h0M82.8 322.2h0M76.8 341.2h0M79.3 342.0h0M69.3 355.1h0M69.6 332.5h0M68.9 343.2h0M71.9 325.0h0M81.6 353.2h0M62.6 331.9h0M68.4 354.3h0M80.7 353.3h0M63.3 347.2h0M64.9 325.6h0M78.2 354.8h0M79.1 345.7h0M74.9 353.6h0M68.5 355.3h0M81.2 354.9h0M65.9 339.4h0M62.9 316.8h0M76.5 342.9h0M80.6 349.5h0M73.7 349.1h0M77.1 315.2h0M55.0 355.1h0M69.6 335.8h0M69.8 337.3h0M65.3 336.2h0M68.3 342.3h0M77.2 351.0h0M74.2 344.9h0M67.5 330.2h0M75.7 338.5h0M71.3 344.3h0M80.1 352.0h0M68.2 351.7h0M65.6 328.5h0M69.1 346.8h0M79.3 346.6h0M81.8 344.9h0M67.2 344.3h0M67.9 338.1h0M63.7 337.8h0M72.2 346.6h0M73.7 334.0h0M72.9 336.6h0M70.9 306.9h0M81.4 301.1h0M75.3 330.5h0M61.1 352.9h0M80.5 352.1h0M79.0 353.8h0M76.4 347.1h0M82.0 312.2h0M78.1 349.0h0M79.7 330.7h0M75.4 350.1h0M75.8 353.0h0M70.7 337.7h0M74.5 333.7h0M61.7 341.4h0M73.8 356.1h0M67.6 346.3h0M73.8 349.5h0M74.1 310.0h0M78.8 354.5h0M74.6 353.8h0M59.2 329.5h0M65.6 331.5h0M76.7 347.6h0M83.0 322.1h0M79.6 339.0h0M71.8 331.7h0M82.9 343.6h0M64.8 349.1h0M72.4 342.7h0M71.1 353.3h0M81.6 349.1h0M67.7 354.1h0M76.8 352.6h0M66.1 318.0h0M82.9 356.0h0M70.2 346.7h0M81.5 355.0h0M82.6 349.9h0M60.6 353.6h0M78.1 349.0h0M82.1 333.0h0M83.1 343.5h0M80.0 342.4h0M62.4 316.7h0M65.9 352.6h0M80.7 353.9h0M83.1 352.8h0M73.4 351.3h0M82.2 348.9h0M67.8 351.1h0M71.6 354.8h0M79.3 339.1h0M65.4 342.9h0M79.8 343.8h0M70.4 354.2h0M76.0 343.8h0M67.2 324.9h0M76.3 332.3h0M64.5 342.5h0M82.2 355.4h0M72.6 338.4h0M82.9 350.3h0M73.6 347.2h0M66.0 338.6h0M80.9 350.0h0M70.5 333.6h0M71.5 328.6h0M67.9 336.7h0M73.5 340.6h0M80.3 305.9h0M67.5 316.0h0M66.0 332.2h0M59.3 344.5h0M83.0 349.6h0M83.1 350.7h0M67.4 351.6h0M83.1 350.8h0M75.9 339.3h0M81.8 350.7h0M79.9 351.5h0M78.8 333.7h0M77.5 356.1h0M76.2 345.6h0M72.4 355.5h0M79.5 347.3h0M75.6 348.3h0M82.2 355.4h0M66.3 338.2h0M80.1 347.8h0M64.8 346.6h0M82.5 346.9h0M77.1 340.9h0M82.6 331.2h0M74.6 320.7h0M77.6 353.7h0M76.1 346.7h0M76.9 341.1h0M60.4 352.7h0M79.4 310.4h0M75.9 324.9h0M75.1 352.4h0M68.2 354.7h0M79.3 355.1h0M74.5 352.6h0M76.4 349.3h0M75.1 348.4h0M82.6 354.9h0M62.4 351.2h0M76.1 347.8h0M81.2 350.8h0M81.1 355.1h0M77.8 355.4h0M69.6 355.9h0M77.1 347.1h0M75.5 353.9h0M81.5 344.0h0M77.9 313.5h0M69.5 348.5h0M66.4 351.3h0M72.7 342.8h0M64.4 349.9h0M77.6 346.4h0M69.9 347.3h0M73.4 346.6h0M70.4 346.9h0M72.8 348.5h0M71.3 344.5h0M64.3 351.4h0M78.3 349.5h0M61.9 356.0h0M70.1 355.9h0M82.4 288.4h0M66.5 312.1h0M73.9 351.0h0M76.2 352.9h0M80.4 333.4h0M69.0 348.4h0M75.0 347.1h0M75.3 354.4h0M81.1 333.6h0M81.5 354.1h0M80.5 355.0h0M70.2 354.4h0M67.0 350.4h0M77.5 312.4h0M81.1 353.2h0M82.4 344.2h0M78.0 334.3h0M76.1 352.0h0M81.8 349.2h0M80.8 341.7h0M77.4 304.6h0M81.1 354.3h0M74.9 355.8h0M82.6 356.0h0M70.9 353.6h0M74.9 334.7h0M72.0 328.9h0M79.2 350.3h0M75.3 326.8h0M76.6 338.3h0M82.4 347.4h0M68.8 349.6h0M74.9 355.1h0M82.2 292.1h0M79.2 289.8h0M82.5 345.6h0M81.7 348.7h0M76.4 351.0h0M65.0 344.4h0M73.0 348.8h0M69.0 336.1h0M75.8 349.6h0M76.7 348.2h0M65.7 337.6h0M71.8 350.9h0M64.5 345.1h0M82.4 344.0h0M68.7 352.2h0M72.1 350.2h0M73.2 354.6h0M77.2 354.7h0M65.9 351.5h0M81.4 348.5h0M62.5 353.9h0M66.9 350.3h0M78.3 355.2h0M64.6 329.3h0M71.6 342.1h0M82.2 340.5h0M75.2 340.5h0M70.9 349.6h0M81.1 355.7h0M77.5 355.7h0M76.3 345.9h0M75.4 345.6h0M66.9 332.4h0M70.9 336.8h0M80.0 354.7h0M82.6 345.0h0M79.8 346.8h0M81.6 354.9h0M80.7 353.5h0M80.7 351.0h0M72.2 340.5h0M66.7 342.5h0M78.3 345.4h0M81.3 336.7h0M81.8 352.7h0M74.1 354.2h0M64.6 329.9h0M73.5 339.2h0M62.1 353.9h0M66.5 344.6h0M82.0 349.7h0M74.4 352.4h0M81.8 344.9h0M79.7 354.6h0M79.6 343.0h0M77.0 324.6h0M82.3 355.8h0M68.6 348.5h0M78.2 323.1h0M72.5 355.4h0M81.3 348.5h0M78.8 350.5h0M78.8 354.7h0M75.3 349.1h0M67.8 346.8h0M67.7 354.1h0M57.2 354.8h0M81.8 344.2h0M79.9 352.3h0M76.6 353.2h0M76.1 338.9h0M70.8 343.1h0M68.2 343.3h0M69.0 328.4h0M76.7 352.7h0M83.1 346.4h0M77.0 351.5h0M70.1 335.8h0M68.4 354.9h0M65.2 351.7h0M61.5 353.7h0M81.1 353.0h0M82.5 323.9h0M74.5 353.3h0M82.4 344.6h0M78.2 355.8h0M66.6 349.2h0M82.6 356.1h0M80.9 350.0h0M78.9 339.5h0M78.7 337.3h0M80.2 336.9h0M63.5 324.9h0M72.7 348.6h0M73.6 355.9h0M68.4 351.1h0M75.6 340.7h0M70.4 354.1h0M82.8 352.1h0M74.4 318.5h0M73.2 348.8h0M76.7 351.2h0M68.9 353.1h0M78.9 355.4h0M67.8 354.8h0M71.2 356.0h0M69.3 342.1h0M82.7 316.2h0M76.8 350.5h0M67.3 348.3h0M80.6 343.9h0M67.2 345.1h0M79.9 349.5h0M80.1 355.8h0M70.9 346.6h0M79.6 345.4h0M77.0 349.6h0M79.2 356.0h0M69.9 345.6h0M65.5 354.7h0M71.1 326.3h0M69.3 350.6h0M72.6 342.2h0M82.3 347.0h0M75.1 338.8h0M80.1 345.9h0M62.0 351.7h0M75.4 346.1h0M68.3 335.7h0M66.5 355.4h0M62.3 353.5h0M68.6 356.1h0M66.4 334.8h0M70.1 329.1h0M64.5 345.5h0M72.3 340.9h0M72.6 351.0h0M71.5 339.3h0M67.7 330.6h0M79.6 353.0h0M77.6 319.1h0M67.1 342.5h0M76.8 351.2h0M78.6 354.3h0M79.3 353.5h0M66.8 339.4h0M81.0 354.2h0M66.3 353.9h0M82.3 350.9h0M74.4 346.9h0M75.4 348.2h0M78.7 353.8h0M70.2 352.6h0M82.0 344.6h0M82.8 341.6h0M68.5 347.2h0M67.5 328.6h0M79.2 339.1h0M78.0 355.8h0M72.9 345.4h0M81.6 349.0h0M77.8 353.5h0M78.9 353.9h0M78.0 310.5h0M80.1 316.2h0M64.7 350.4h0M69.7 353.2h0M61.0 339.3h0M77.7 339.9h0M74.6 339.7h0M80.5 351.3h0M82.8 320.7h0M82.7 327.0h0M76.1 347.2h0M76.6 343.7h0M64.5 347.0h0M61.7 352.9h0M81.8 346.4h0M82.6 349.4h0M73.7 349.6h0M65.9 353.7h0M75.8 335.8h0M80.1 346.2h0M82.1 328.6h0M62.0 350.8h0M80.4 355.7h0M73.9 355.2h0M81.0 354.9h0M73.2 338.2h0M82.8 355.3h0M77.1 346.2h0M79.5 355.0h0M82.0 347.6h0M59.2 332.8h0M76.4 346.3h0M78.8 352.3h0M81.9 354.8h0M75.0 351.0h0M68.8 331.8h0M78.8 338.5h0M74.7 352.9h0M82.9 352.9h0M79.7 342.8h0M73.2 349.8h0M75.3 342.5h0M67.5 341.8h0M76.7 345.1h0M64.3 348.9h0M77.4 349.7h0M70.4 343.0h0M77.8 346.5h0M72.6 344.3h0M79.4 314.0h0M75.9 346.6h0M64.5 349.6h0M75.5 333.2h0M67.3 338.3h0M77.5 355.3h0M82.2 355.1h0M76.7 331.4h0M80.1 326.9h0M82.1 317.2h0M82.9 354.0h0M67.7 329.5h0M70.0 346.2h0M71.3 320.1h0M78.7 355.9h0M78.4 347.9h0M66.7 344.1h0M64.9 349.4h0M80.0 338.0h0M69.7 333.1h0M66.4 350.0h0M62.4 345.8h0M66.3 350.7h0M69.7 348.1h0M69.4 347.5h0M78.2 353.6h0M61.9 345.6h0M61.5 346.0h0M62.8 352.7h0M66.0 347.1h0M79.5 351.2h0M81.8 348.2h0M81.1 331.6h0M69.5 354.4h0M80.3 342.9h0M82.7 346.4h0M76.7 354.2h0M69.2 348.6h0M82.3 353.0h0M78.0 341.9h0M64.4 351.6h0M71.4 351.2h0M76.5 354.6h0M81.3 342.5h0M78.0 354.0h0M70.9 355.5h0M80.8 354.5h0M70.3 336.3h0M80.3 355.7h0M63.5 349.6h0M82.4 353.2h0M80.6 353.0h0M83.1 353.5h0M81.8 335.3h0M60.0 354.8h0M75.5 343.0h0M66.2 317.4h0M79.8 355.1h0M64.1 334.1h0M76.3 337.6h0M62.4 355.4h0M70.5 338.9h0M80.5 324.6h0M79.0 340.2h0M67.7 327.7h0M64.5 352.1h0M80.2 353.5h0M77.3 352.0h0M82.3 350.3h0M68.3 354.5h0M72.2 351.4h0M74.1 352.4h0M82.3 300.5h0M79.2 341.3h0M68.5 355.9h0M76.1 332.1h0M73.1 352.9h0M76.4 342.7h0M67.3 337.6h0M78.9 322.8h0M81.0 355.2h0M70.0 331.0h0M70.0 351.2h0M78.6 342.6h0M63.8 346.1h0M78.2 355.6h0M59.2 341.1h0M62.3 328.9h0M82.9 342.0h0M70.2 351.8h0M76.2 352.5h0M74.6 348.8h0M83.0 351.4h0M77.0 344.0h0M64.2 351.8h0M68.4 355.0h0M77.0 351.3h0M78.9 340.9h0M71.1 353.1h0M70.0 352.9h0M71.3 348.2h0M77.0 350.6h0M82.6 354.3h0M79.8 346.4h0M64.9 346.3h0M69.4 340.3h0M82.3 354.4h0M68.1 313.9h0M80.2 353.1h0M82.4 353.3h0M68.3 346.1h0M78.9 355.4h0M62.5 350.5h0M77.5 355.7h0M76.1 342.3h0M77.3 345.2h0M72.7 352.5h0M75.6 269.0h0M81.5 346.3h0M78.9 354.3h0M57.0 349.6h0M72.1 339.7h0M81.0 349.5h0M81.8 349.3h0M74.8 353.0h0M76.9 355.2h0M60.6 307.2h0M62.7 355.5h0M63.1 345.5h0M69.9 326.6h0M61.5 324.7h0M69.0 315.3h0M78.6 351.5h0M71.1 325.9h0M70.6 333.3h0M63.6 350.2h0M68.6 343.5h0M77.2 324.6h0M79.8 353.5h0M69.8 355.2h0M79.4 328.9h0M76.1 354.1h0M72.4 301.2h0M67.9 349.0h0M70.3 344.4h0M76.9 336.5h0M80.5 337.6h0M68.9 335.1h0M71.2 345.2h0M62.2 356.1h0M76.3 322.8h0M71.7 343.5h0M82.4 351.7h0M78.7 335.4h0M82.7 331.5h0M65.9 342.6h0M78.9 351.7h0M75.8 336.0h0M81.4 356.0h0M79.9 337.6h0M65.6 352.3h0M80.9 334.4h0M75.2 340.5h0M81.1 350.5h0M76.8 343.9h0M67.9 349.3h0M64.3 354.3h0M60.2 352.2h0M70.1 352.6h0M67.7 349.7h0M72.8 344.2h0M77.8 355.8h0M79.1 340.1h0M76.6 352.6h0M63.5 350.9h0M68.6 339.6h0M82.6 352.5h0M80.9 352.0h0M80.5 348.9h0M73.7 355.8h0M77.8 349.9h0M70.0 344.4h0M72.0 354.7h0M63.6 350.6h0M76.7 346.5h0M81.8 342.3h0M62.3 354.5h0M59.1 348.6h0M73.0 353.5h0M70.4 345.5h0M70.1 352.6h0M78.1 348.4h0M65.7 348.8h0M71.3 334.7h0M82.1 354.0h0M75.2 351.1h0M78.0 338.6h0M72.3 347.3h0M67.1 355.8h0M78.7 344.5h0M79.1 343.8h0M61.7 346.1h0M72.2 352.2h0M81.1 344.8h0M81.8 345.5h0M81.1 353.9h0M68.7 334.0h0M71.8 345.6h0M79.0 345.4h0M64.1 341.2h0M81.8 328.1h0M76.9 346.5h0M70.7 348.9h0M71.8 349.5h0M72.6 343.3h0M71.1 350.5h0M70.1 350.9h0M62.9 354.9h0M58.8 350.5h0M73.7 354.7h0M75.0 327.9h0M79.1 347.7h0M82.9 343.7h0M75.8 349.0h0M82.2 336.0h0M61.7 354.9h0M77.6 354.5h0M79.3 349.1h0M78.0 350.5h0M78.5 349.3h0M82.9 350.9h0M82.8 323.4h0M77.8 351.7h0M82.2 334.2h0M82.9 351.3h0M65.1 348.7h0M77.4 350.7h0M69.5 352.5h0M70.2 352.2h0M72.7 336.1h0M74.3 351.7h0M77.3 349.4h0M81.7 331.1h0M80.5 340.0h0M78.0 349.6h0M76.8 348.5h0M80.4 354.2h0M82.3 354.9h0M61.4 340.6h0M79.9 354.5h0M83.0 345.9h0M80.9 347.2h0M76.4 353.6h0M69.1 354.9h0M81.4 332.1h0M79.0 355.0h0M65.3 353.7h0M73.1 346.0h0M64.7 348.1h0M79.5 353.3h0M76.5 345.5h0M65.5 343.4h0M65.4 347.0h0M78.9 348.5h0M71.6 328.6h0M72.5 341.5h0M83.0 349.6h0M62.4 353.9h0M78.1 349.3h0M76.9 347.1h0M82.5 336.8h0M78.4 331.6h0M75.8 323.5h0M80.9 348.9h0M79.5 351.0h0M82.5 352.7h0M80.8 329.6h0M75.4 354.3h0M58.5 353.8h0M72.1 332.2h0M70.5 352.8h0M78.0 354.3h0M78.5 354.6h0M72.2 348.0h0M77.2 326.7h0M65.8 351.9h0M75.4 339.9h0M71.9 349.3h0M64.5 342.7h0M63.3 342.0h0M65.1 353.5h0M67.6 332.6h0M70.5 342.2h0M78.8 349.0h0M80.0 352.1h0M66.6 329.4h0M80.7 324.4h0M70.7 345.4h0M69.7 354.8h0M64.9 352.5h0M77.8 345.4h0M75.7 339.2h0M79.3 355.8h0M79.7 351.0h0M81.9 346.7h0M64.7 321.6h0M78.0 345.0h0M77.3 350.4h0M64.4 346.9h0M80.5 341.9h0M78.1 345.3h0M80.9 339.6h0M82.2 355.3h0M77.3 351.5h0M83.0 307.1h0M78.7 336.6h0M78.6 352.9h0M67.9 344.4h0M79.1 340.4h0M80.2 349.4h0M73.2 354.7h0M75.5 329.1h0M73.3 353.0h0M76.8 345.3h0M70.8 335.2h0M76.4 343.2h0M67.3 344.7h0M70.5 351.8h0M79.8 340.3h0M67.3 349.2h0M80.0 336.3h0M82.2 334.0h0M76.1 347.8h0M59.7 351.6h0M71.5 343.7h0M78.0 328.4h0M72.7 349.2h0M73.1 327.7h0M73.1 350.4h0M70.7 350.5h0M78.8 336.7h0M75.4 355.7h0M81.4 351.9h0M58.2 352.6h0M76.2 334.6h0M82.0 323.5h0M82.8 345.2h0M82.9 331.6h0M82.3 354.2h0M67.5 340.1h0M78.7 355.3h0M81.0 353.5h0M82.4 348.8h0M79.2 353.6h0M75.5 342.0h0M78.9 302.4h0M66.3 340.3h0M73.8 349.6h0M61.5 341.8h0M72.1 348.8h0M61.5 351.1h0M78.7 353.6h0M68.9 335.7h0M72.9 355.8h0M64.1 329.0h0M71.7 342.5h0M81.1 353.3h0M79.3 352.5h0M74.4 321.4h0M78.8 355.0h0M65.7 355.8h0M67.5 325.3h0M76.6 348.8h0M75.4 343.9h0M70.3 337.6h0M81.3 336.9h0M80.9 353.9h0M67.6 346.6h0M82.0 355.8h0M81.8 335.1h0M74.4 355.8h0M66.3 350.1h0M76.8 346.0h0M73.8 349.8h0M71.3 312.4h0M71.0 338.0h0M67.7 355.5h0M83.1 351.2h0M65.1 354.3h0M66.7 355.6h0M68.2 352.4h0M69.2 344.2h0M75.7 356.0h0M83.0 339.9h0M80.7 347.6h0M65.4 352.8h0M81.1 354.5h0M81.1 346.4h0M70.7 341.8h0M79.9 354.0h0M78.1 347.9h0M81.0 346.2h0M77.0 334.5h0M70.9 352.8h0M67.8 349.1h0M62.6 355.7h0M82.7 341.1h0M67.7 344.3h0M67.9 336.6h0M62.6 354.4h0M81.7 331.9h0M80.1 353.4h0M77.5 317.2h0M75.2 344.3h0M70.9 349.9h0M74.0 348.2h0M71.3 346.2h0M77.1 304.1h0M74.0 352.8h0M56.2 354.6h0M80.5 342.8h0M70.8 340.2h0M79.5 345.3h0M78.7 355.8h0M79.8 354.4h0M81.9 351.6h0M78.7 344.2h0M77.8 355.9h0M74.5 345.1h0M65.8 318.1h0M81.1 349.2h0M81.9 354.2h0M81.2 354.3h0M75.9 298.8h0M73.4 323.5h0M83.0 349.6h0M67.3 355.3h0M76.7 355.4h0M75.0 351.7h0M82.3 348.1h0M74.9 287.2h0M79.5 353.9h0M68.5 353.6h0M75.2 352.9h0M78.6 353.9h0M65.1 335.3h0M70.1 336.2h0M68.1 354.1h0M80.9 307.2h0M65.0 355.8h0M71.3 355.3h0M81.5 319.3h0M82.4 329.9h0M72.0 352.5h0M83.1 346.4h0M72.1 337.1h0M72.1 312.6h0M64.2 342.9h0M61.1 347.2h0M79.1 351.0h0M78.4 352.7h0M55.8 354.4h0M70.0 355.5h0M78.8 356.0h0M81.0 339.6h0M70.4 338.5h0M65.0 338.2h0M70.6 354.9h0M77.0 355.4h0M79.3 343.8h0M82.0 345.8h0M71.3 351.2h0M82.7 339.6h0M64.6 355.8h0M78.0 331.5h0M68.6 343.3h0M65.6 352.6h0M65.8 354.4h0M67.3 336.3h0M67.8 355.7h0M72.0 348.3h0M79.6 342.7h0M77.8 346.2h0M82.8 339.4h0M70.1 333.5h0M81.9 352.8h0M66.8 311.4h0M82.5 348.2h0M82.1 336.1h0M78.8 316.1h0M81.0 354.9h0M74.3 354.2h0M74.8 328.8h0M81.6 350.9h0M83.0 339.5h0M80.4 354.1h0M69.2 347.9h0M83.0 354.0h0M62.9 345.5h0M82.1 347.3h0M69.5 354.2h0M77.0 354.5h0M75.9 327.1h0M76.3 342.3h0M76.4 349.5h0M82.0 349.4h0M73.7 350.3h0M64.2 328.8h0M67.9 354.0h0M80.7 352.4h0M79.8 326.5h0M74.7 336.2h0M77.5 338.3h0M68.3 322.7h0M61.5 351.4h0M79.9 334.8h0M69.7 344.9h0M75.4 346.4h0M71.0 350.3h0M66.8 342.3h0M66.3 315.9h0M80.5 337.3h0M63.0 348.9h0M62.8 353.0h0M77.1 283.2h0M67.0 339.9h0M64.6 333.7h0M63.7 352.0h0M62.2 346.7h0M77.0 344.0h0M71.8 333.9h0M79.5 348.8h0M74.0 353.8h0M79.6 323.6h0M75.6 324.4h0M75.9 353.9h0M80.0 348.4h0M71.0 355.0h0M69.3 345.2h0M60.1 327.3h0M78.6 354.6h0M65.8 355.0h0M73.0 348.5h0M81.5 347.3h0M61.7 350.5h0M83.1 355.5h0M79.9 353.8h0M57.4 349.8h0M62.4 348.3h0M69.4 352.2h0M78.8 345.5h0M66.7 349.3h0M82.2 348.1h0M75.2 306.3h0M80.6 351.7h0M79.0 351.4h0M75.5 354.1h0M76.7 347.3h0M73.2 327.1h0M81.9 343.9h0M74.7 337.8h0M79.7 354.1h0M77.7 344.1h0M75.3 348.7h0M74.0 350.5h0M60.0 348.2h0M63.0 342.8h0M76.2 316.9h0M75.1 351.1h0M70.7 353.2h0M71.3 349.4h0M68.9 336.2h0M81.2 349.6h0M75.0 350.4h0M73.3 352.8h0M82.7 354.5h0M70.1 354.0h0M80.6 311.3h0M59.5 347.6h0M72.6 272.1h0M74.0 331.1h0M72.5 316.4h0M64.3 353.8h0M80.3 352.0h0M71.7 355.9h0M71.1 346.9h0M77.3 343.8h0M70.4 330.3h0M82.1 355.9h0M62.6 355.9h0M64.4 344.9h0M78.7 349.3h0M56.1 355.6h0M74.2 355.5h0M79.5 344.8h0M83.1 354.0h0M81.1 348.4h0M77.1 348.0h0M66.3 353.9h0M76.3 350.0h0M81.1 349.8h0M78.2 354.1h0M67.7 351.7h0M66.7 347.4h0M76.2 343.8h0M70.2 336.4h0M62.0 349.7h0M70.2 351.6h0M81.6 340.3h0M66.5 351.3h0M76.6 343.5h0M81.5 348.4h0M80.6 307.9h0M79.1 355.2h0M79.5 353.7h0M72.9 344.6h0M79.3 347.1h0M65.0 338.9h0M61.6 308.2h0M63.8 337.6h0M75.8 337.2h0M62.6 328.6h0M70.2 355.9h0M77.0 355.9h0M83.0 352.0h0M64.6 343.7h0M82.8 354.9h0M69.3 346.7h0M68.7 346.9h0M73.5 349.1h0M65.3 345.0h0M69.5 314.3h0M57.1 351.7h0M81.6 323.1h0M75.6 344.5h0M80.4 346.3h0M69.7 355.4h0M78.5 355.0h0M74.2 324.9h0M80.7 343.0h0M63.2 349.0h0M82.7 346.3h0M69.9 350.1h0M68.7 307.1h0M77.4 345.8h0M76.2 349.9h0M71.4 340.7h0M65.2 313.3h0M77.1 349.7h0M65.3 339.2h0M63.4 333.4h0M75.2 353.2h0M68.9 345.9h0M82.3 330.1h0M75.7 306.3h0M58.8 327.8h0M71.4 349.8h0M73.2 347.7h0M78.5 352.1h0M65.3 354.6h0M70.6 338.3h0M80.7 341.0h0M82.9 326.8h0M68.5 352.5h0M65.5 351.0h0M65.0 339.0h0M81.4 300.0h0M76.5 350.6h0M64.2 296.5h0M61.1 353.1h0M82.0 347.0h0M68.8 354.2h0M76.5 353.5h0M80.3 351.9h0M82.5 352.6h0M78.7 337.9h0M64.2 328.6h0M67.3 350.6h0M77.5 341.1h0M81.8 335.9h0M80.2 348.0h0M78.8 348.7h0M76.9 339.3h0M71.7 349.5h0M66.8 351.8h0M78.6 342.2h0M74.6 322.2h0M83.0 338.4h0M71.4 349.0h0M69.2 354.3h0M61.3 351.9h0M76.8 355.7h0M74.5 344.1h0M81.9 347.0h0M63.2 349.6h0M69.4 350.6h0M62.8 348.5h0M75.7 345.3h0M70.4 325.4h0M79.1 347.6h0M82.7 334.9h0M82.9 303.0h0M71.0 353.7h0M78.0 333.4h0M74.4 339.4h0M68.5 355.7h0M79.1 339.3h0M81.2 351.1h0M70.1 346.7h0M63.6 355.8h0M80.8 341.0h0M72.2 334.3h0M79.1 353.4h0M80.4 353.8h0M77.5 331.7h0M70.1 342.6h0M82.3 355.2h0M59.8 349.4h0M80.3 346.0h0M76.7 352.8h0M82.7 350.6h0M81.5 335.3h0M81.2 354.9h0M64.4 352.9h0M78.6 341.6h0M63.1 341.0h0M69.5 339.7h0M70.4 339.0h0M72.9 347.6h0M81.5 340.5h0M60.3 330.6h0M82.3 331.7h0M80.8 350.7h0M68.1 352.7h0M71.1 331.2h0M59.7 328.0h0M79.5 320.8h0M78.8 352.7h0M76.2 347.3h0M79.1 330.5h0M63.1 353.2h0M71.9 345.6h0M78.6 350.4h0M80.3 352.2h0M66.0 354.7h0M76.5 335.4h0M72.8 352.5h0M66.0 355.8h0M82.4 347.4h0M75.8 334.1h0M70.6 354.0h0M68.8 339.5h0M71.0 355.3h0M77.6 349.4h0M81.4 339.8h0M69.1 351.3h0M77.6 352.9h0M72.7 354.4h0M67.1 336.6h0M75.6 350.0h0M75.6 335.6h0M63.9 354.6h0M72.2 340.5h0M75.3 354.0h0M64.4 338.9h0M82.8 340.1h0M60.6 345.9h0M81.9 351.1h0M78.7 348.8h0M80.2 329.1h0M76.4 344.2h0M75.8 318.4h0M66.6 345.5h0M69.2 348.0h0M82.9 354.5h0M79.7 348.4h0M74.4 355.7h0M73.2 344.7h0M79.2 340.9h0M64.9 295.5h0M73.2 350.4h0M68.2 347.3h0M74.0 337.1h0M81.6 354.4h0M80.4 355.3h0M71.6 344.0h0M83.0 352.9h0M75.8 289.2h0M82.3 354.3h0M73.4 352.2h0M69.0 354.3h0M59.7 355.8h0M81.6 337.0h0M79.3 344.7h0M65.1 341.3h0M65.4 354.2h0M61.4 338.3h0M81.1 304.3h0M62.0 353.4h0M81.5 341.1h0M80.3 356.1h0M70.9 355.6h0M74.7 314.0h0M72.5 351.3h0M67.4 327.5h0M70.7 354.3h0M77.0 299.9h0M80.0 344.7h0M58.7 355.4h0M73.3 352.1h0M72.9 343.5h0M81.7 340.0h0M72.5 351.0h0M67.7 348.0h0M79.4 349.3h0M79.7 325.8h0M80.8 354.2h0M74.4 355.0h0M69.1 353.8h0M76.5 353.3h0M76.2 341.4h0M75.6 307.8h0M80.1 354.2h0M74.3 350.4h0M80.1 329.2h0M66.5 342.5h0M77.7 339.8h0M80.1 349.7h0M82.9 355.3h0M67.3 326.4h0M76.0 353.2h0M59.4 352.3h0M72.6 348.5h0M71.2 353.3h0M80.4 328.8h0M61.9 343.4h0M74.2 339.9h0M75.2 328.0h0M66.6 349.1h0M76.8 352.0h0M70.1 342.1h0M81.9 340.9h0M80.0 341.5h0M78.5 348.5h0M73.5 354.8h0M72.4 353.6h0M78.9 309.2h0M74.7 348.8h0M63.3 331.5h0M83.0 336.7h0M69.1 353.5h0M82.2 325.6h0M79.3 343.6h0M68.4 353.0h0M79.7 350.3h0M81.4 354.5h0M77.4 351.7h0M74.9 355.8h0M81.1 341.9h0M80.6 350.5h0M75.7 343.4h0M80.6 355.6h0M70.2 340.7h0M80.1 336.4h0M74.6 345.3h0M74.7 343.3h0M80.7 354.4h0M60.3 355.0h0M71.9 351.4h0M82.6 344.7h0M80.1 276.0h0M67.9 329.8h0M78.6 348.6h0M77.2 348.5h0M59.6 339.0h0M72.6 329.2h0M61.1 356.0h0M81.4 341.1h0M76.6 351.2h0M72.7 344.8h0M77.0 355.3h0M82.2 349.1h0M71.1 325.8h0M60.2 351.3h0M72.4 338.3h0M71.5 343.1h0M71.0 325.7h0M73.5 354.9h0M79.8 346.2h0M72.3 346.5h0M82.6 353.7h0M66.7 328.3h0M70.0 344.0h0M74.3 350.2h0M80.8 349.6h0M75.3 332.0h0M69.3 344.9h0M67.5 351.0h0M79.3 338.9h0M83.0 351.3h0M80.7 350.7h0M73.3 355.8h0M75.7 346.6h0M61.9 348.5h0M65.9 347.1h0M74.4 348.1h0M77.4 352.7h0M78.1 354.3h0M65.0 351.2h0M63.3 342.5h0M65.3 345.2h0M61.0 355.8h0M80.7 333.8h0M82.6 347.9h0M80.6 323.9h0M68.9 351.6h0M78.8 354.2h0M70.3 355.0h0M80.8 347.1h0M68.1 341.3h0M79.6 349.0h0M77.1 329.3h0M74.4 347.9h0M78.1 355.4h0M68.5 346.4h0M81.1 352.6h0M71.8 343.3h0M81.6 336.8h0M70.4 344.3h0M82.7 338.3h0M69.8 336.8h0M74.8 348.2h0M65.6 355.8h0M78.0 340.1h0M82.6 355.0h0M68.0 345.0h0M77.7 351.3h0M80.8 341.0h0M67.8 334.4h0M70.8 344.8h0M80.6 335.0h0M69.2 342.2h0M67.2 341.8h0M78.7 348.3h0M76.9 313.9h0M80.7 350.1h0M75.8 344.4h0M81.1 354.8h0M80.7 340.3h0M80.9 351.0h0M59.7 354.3h0M81.4 349.5h0M80.5 334.6h0M82.9 352.8h0M75.9 344.8h0M71.7 354.3h0M68.0 328.5h0M66.0 338.7h0M62.6 351.3h0M82.3 344.4h0M77.7 350.7h0M76.6 333.3h0M71.3 339.5h0M74.5 355.7h0M59.3 351.1h0M82.3 351.8h0M71.4 355.9h0M69.6 352.7h0M69.4 328.6h0M72.7 345.7h0M69.1 351.0h0M68.6 350.6h0M73.9 354.9h0M66.8 338.3h0M73.6 336.0h0M77.5 355.2h0M67.9 330.9h0M82.1 336.8h0M72.1 351.3h0M63.0 341.7h0M64.9 346.8h0M82.5 347.1h0M69.0 329.0h0M72.1 345.5h0M82.1 347.6h0M80.4 351.4h0M79.7 349.4h0M82.9 349.1h0M82.3 350.1h0M64.6 339.7h0M72.5 350.7h0M74.1 352.9h0M78.8 352.9h0M74.2 347.4h0M70.6 355.1h0M69.8 353.5h0M68.7 353.2h0M63.4 353.2h0M83.0 341.3h0M83.0 350.3h0M66.6 338.8h0M73.3 346.1h0M81.1 352.8h0M72.5 349.2h0M80.2 352.3h0M77.3 356.1h0M61.0 353.6h0M77.2 339.8h0M68.6 353.3h0M71.9 354.2h0M76.1 355.2h0M64.2 347.9h0M71.4 349.9h0M82.8 347.8h0M67.7 344.7h0M82.9 345.9h0M69.2 344.2h0M67.7 355.5h0M80.6 326.4h0M63.8 345.5h0M81.1 351.4h0M75.2 339.5h0M82.4 354.9h0M82.4 342.7h0M72.6 352.7h0M79.8 355.1h0M72.2 351.6h0M82.0 336.3h0M76.5 322.4h0M78.1 325.7h0M80.3 337.4h0M61.1 354.0h0M78.9 352.1h0M67.0 322.7h0M81.0 348.4h0M79.9 322.7h0M73.1 350.1h0M72.4 343.5h0M82.4 333.3h0M74.9 353.0h0M79.9 354.8h0M62.3 346.0h0M82.8 355.4h0M80.4 337.3h0M79.8 343.5h0M80.1 320.9h0M76.9 351.1h0M67.5 354.9h0M72.8 333.2h0M83.0 336.0h0M78.1 349.5h0M82.5 330.5h0M67.8 353.6h0M71.5 349.9h0M73.0 336.4h0M64.8 324.6h0M76.9 333.3h0M78.4 333.6h0M69.8 323.1h0M80.1 352.4h0M66.5 353.9h0M73.9 351.6h0M76.8 348.9h0M76.9 324.1h0M63.4 351.6h0M75.4 351.5h0M77.5 356.0h0M81.0 350.2h0M80.8 352.8h0M78.5 354.3h0M67.2 354.2h0M66.0 349.7h0M79.8 341.0h0M79.9 333.0h0M79.5 345.1h0M76.2 350.9h0M76.9 354.4h0M79.3 351.7h0M57.9 355.3h0M83.0 337.8h0M78.9 328.9h0M73.2 349.5h0M68.8 271.9h0M82.1 354.7h0M69.5 310.2h0M75.0 339.8h0M78.2 338.6h0M74.6 355.1h0M80.5 337.8h0M62.1 343.2h0M81.9 347.2h0M76.7 335.1h0M71.8 349.2h0M65.6 355.6h0M81.8 352.2h0M78.2 349.5h0M65.6 352.8h0M74.1 340.7h0M72.7 347.6h0M71.6 354.6h0M78.9 351.3h0M68.3 343.1h0M63.1 347.5h0M73.7 338.5h0M82.8 352.1h0M64.8 322.4h0M79.9 340.1h0M78.9 307.5h0M81.2 326.5h0M70.3 349.7h0M70.7 343.9h0M82.1 355.4h0M81.0 348.0h0M75.3 354.8h0M76.9 354.4h0M64.2 353.9h0M77.9 352.2h0M78.2 339.3h0M78.9 333.9h0M82.9 345.7h0M81.2 349.0h0M79.6 349.9h0M68.0 305.6h0M78.7 346.6h0M77.4 352.4h0M82.1 355.1h0M82.5 306.7h0M78.4 343.2h0M81.8 308.1h0M75.3 341.8h0M80.7 339.7h0M76.8 348.8h0M72.7 329.6h0M82.6 341.5h0M78.2 332.2h0M81.2 352.1h0M70.6 350.6h0M82.8 352.7h0M68.1 342.4h0M83.0 354.9h0M64.0 335.2h0M77.7 347.3h0M74.4 348.7h0M77.8 335.3h0M72.2 353.7h0M68.4 334.7h0M67.4 307.2h0M83.1 353.4h0M71.9 351.8h0M61.4 345.6h0M80.8 332.5h0M76.8 335.9h0M78.8 336.6h0M73.7 355.6h0M62.9 319.2h0M80.8 356.0h0M80.5 319.0h0M64.7 331.9h0M61.0 323.4h0M64.8 329.2h0M68.0 343.1h0M70.9 337.3h0M70.6 327.1h0M82.7 333.1h0M61.8 354.1h0M78.0 313.2h0M64.0 348.8h0M69.9 353.7h0M73.3 351.3h0M78.5 355.8h0M64.9 354.8h0M74.9 341.4h0M69.4 354.1h0M81.6 334.6h0M66.2 334.6h0M54.5 353.2h0M79.0 342.6h0M65.7 355.9h0M67.0 346.5h0M63.0 344.8h0M82.1 331.1h0M68.6 332.8h0M71.3 355.3h0M82.6 346.2h0M73.4 311.9h0M80.0 353.2h0M79.6 348.0h0M74.9 352.7h0M82.8 348.8h0M77.6 350.2h0M70.3 354.0h0M63.7 354.8h0M72.7 321.7h0M69.7 355.0h0M83.0 353.7h0M76.9 326.7h0M76.8 340.7h0M67.8 338.4h0M77.7 347.4h0M78.0 344.4h0M76.8 350.6h0M70.7 347.8h0M68.7 355.5h0M75.5 346.7h0M82.6 333.3h0M65.9 354.8h0M65.6 353.7h0M78.5 347.0h0M76.7 339.2h0M81.0 351.1h0M65.0 349.0h0M65.1 341.6h0M68.4 351.7h0M81.2 331.7h0M77.1 346.5h0M74.5 318.9h0M74.6 331.3h0M68.4 353.5h0M80.4 346.5h0M74.1 342.3h0M76.5 354.6h0M75.7 353.4h0M62.2 350.9h0M79.2 342.8h0M66.8 343.2h0M82.1 354.7h0M80.0 344.9h0M65.0 356.0h0M77.8 352.5h0M76.8 351.8h0M78.0 347.9h0M83.1 335.6h0M65.6 341.1h0M73.5 351.5h0M79.0 351.8h0M61.8 347.0h0M76.0 350.7h0M72.7 355.6h0M61.7 354.0h0M79.0 354.8h0M62.0 335.9h0M74.7 349.4h0M74.4 333.2h0M81.7 350.2h0M82.9 308.1h0M81.5 352.9h0M69.7 346.0h0M81.0 340.5h0M64.9 344.1h0M69.7 355.8h0M77.6 349.5h0M72.1 346.7h0M75.5 343.0h0M72.1 355.0h0M80.0 349.0h0M64.2 349.9h0M73.4 349.4h0M75.9 334.7h0M72.9 354.8h0M69.2 354.3h0M77.9 353.0h0M65.8 338.8h0M63.7 350.7h0M81.5 351.1h0M76.3 355.7h0M65.2 351.5h0M78.5 326.4h0M83.0 350.0h0M78.8 340.9h0M82.6 308.6h0" stroke="#1414ee" stroke-width="0.75" stroke-linecap="round" fill="none" opacity="1.0"/>
<path d="M102.4 354.9h0M103.6 328.3h0M131.5 343.8h0M98.0 356.1h0M115.9 306.5h0M102.9 353.6h0M111.5 348.2h0M99.6 345.4h0M107.7 331.1h0M97.6 318.7h0M111.9 355.4h0M98.0 342.2h0M105.1 334.2h0M106.1 348.3h0M99.8 321.8h0M100.8 331.3h0M102.0 301.7h0M104.0 355.1h0M102.9 354.6h0M98.1 340.4h0M97.6 326.0h0M97.8 335.2h0M97.9 298.2h0M99.7 298.3h0M97.5 330.1h0M115.8 351.2h0M97.7 338.9h0M121.5 347.0h0M105.8 328.2h0M102.0 342.6h0M104.4 293.5h0M104.0 344.3h0M102.8 351.5h0M103.0 342.1h0M98.6 353.7h0M108.9 345.1h0M130.8 351.1h0M120.3 354.1h0M102.7 330.5h0M97.9 348.3h0M99.5 337.5h0M110.3 353.7h0M99.2 336.8h0M98.2 298.1h0M108.3 297.7h0M102.9 345.3h0M98.5 328.7h0M99.0 346.1h0M130.1 340.3h0M101.9 351.6h0M103.7 328.3h0M115.0 355.8h0M98.9 339.4h0M98.5 345.7h0M103.2 353.2h0M98.8 307.4h0M99.7 345.1h0M102.2 345.9h0M98.2 345.8h0M113.5 324.2h0M104.4 335.3h0M100.8 345.3h0M120.1 347.4h0M109.0 353.2h0M99.7 346.6h0M98.6 340.9h0M109.4 347.5h0M99.3 316.9h0M100.1 335.0h0M108.3 342.1h0M99.9 333.0h0M98.0 339.3h0M99.8 354.4h0M102.1 344.1h0M103.4 302.1h0M119.3 319.0h0M101.2 323.6h0M112.9 353.1h0M103.7 351.6h0M97.5 328.5h0M107.4 318.7h0M103.7 353.9h0M102.4 353.6h0M99.3 337.4h0M116.1 333.9h0M110.2 295.6h0M97.5 346.7h0M100.5 350.9h0M98.2 354.7h0M101.3 326.6h0M98.8 323.3h0M101.5 326.6h0M114.4 345.8h0M102.8 330.1h0M120.8 354.0h0M128.4 351.2h0M152.0 356.0h0M101.2 343.4h0M126.1 351.4h0M104.6 336.6h0M114.0 317.1h0M98.7 335.7h0M104.1 346.6h0M100.7 344.1h0M115.3 344.9h0M114.9 347.3h0M102.9 354.0h0M101.9 330.3h0M126.5 354.7h0M99.8 351.0h0M102.8 352.4h0M114.0 332.9h0M104.7 328.2h0M100.8 354.9h0M109.9 353.0h0M104.9 347.8h0M101.7 338.2h0M105.1 345.4h0M103.9 347.5h0M132.5 352.4h0M103.1 341.3h0M101.3 351.0h0M103.1 352.0h0M101.0 350.9h0M114.1 341.0h0M113.3 317.8h0M114.5 328.4h0M99.9 311.7h0M110.2 332.0h0M104.7 320.7h0M100.9 307.4h0M100.5 315.8h0M107.6 320.4h0M105.0 351.4h0M100.1 329.5h0M98.3 332.3h0M107.1 344.2h0M122.6 353.4h0M98.6 350.5h0M99.1 352.2h0M98.7 353.9h0M108.3 355.2h0M99.5 338.2h0M103.6 352.5h0M97.5 353.0h0M100.1 353.7h0M101.3 351.1h0M120.5 349.9h0M101.3 320.7h0M152.8 343.1h0M110.8 338.3h0M102.6 355.9h0M98.6 347.0h0M101.5 352.1h0M103.2 318.1h0M102.1 339.2h0M137.2 342.0h0M97.7 320.4h0M102.0 355.3h0M101.6 322.9h0M107.6 327.8h0M105.6 347.0h0M99.0 350.7h0M115.1 355.9h0M113.5 353.2h0M98.4 354.4h0M106.0 327.5h0M97.5 300.5h0M104.0 346.1h0M101.1 354.0h0M102.4 346.4h0M109.3 335.3h0M100.5 351.8h0M99.8 334.9h0M100.9 356.0h0M99.2 354.8h0M104.0 342.2h0M101.4 334.7h0M102.1 320.7h0M99.2 351.1h0M98.3 353.5h0M113.4 351.1h0M101.9 353.8h0M117.4 345.7h0M97.6 342.9h0M107.1 355.4h0M102.9 307.4h0M100.6 334.0h0M107.1 344.6h0M104.9 326.7h0M105.7 339.0h0M125.6 350.8h0M99.5 316.2h0M104.1 300.3h0M98.9 349.5h0M99.4 291.8h0M98.7 313.3h0M98.8 336.6h0M114.0 341.7h0M104.8 332.7h0M100.0 337.0h0M97.8 347.6h0M125.3 285.9h0M133.4 342.5h0M104.0 350.2h0M110.4 338.0h0M118.0 351.2h0M97.6 349.8h0M97.8 337.0h0M144.9 350.4h0M101.0 312.2h0M98.3 345.1h0M99.6 351.6h0M108.1 343.4h0M101.3 353.8h0M100.4 341.0h0M98.4 328.3h0M109.3 351.3h0M121.6 353.4h0M102.7 344.9h0M108.6 338.2h0M113.2 337.6h0M103.2 347.2h0M100.0 342.0h0M99.7 312.1h0M104.7 339.6h0M101.4 355.9h0M103.8 355.5h0M99.0 327.2h0M104.7 354.6h0M116.8 353.5h0M117.1 346.4h0M109.7 352.1h0M102.7 347.9h0M100.8 352.6h0M106.2 351.0h0M113.0 336.0h0M101.8 326.9h0M98.9 318.8h0M98.2 334.4h0M98.0 348.5h0M113.0 356.1h0M105.4 348.8h0M125.9 342.4h0M97.6 342.5h0M101.9 348.5h0M99.7 353.2h0M121.6 328.9h0M101.9 353.3h0M108.4 322.3h0M102.0 316.1h0M108.5 340.9h0M105.7 350.6h0M99.4 335.9h0M101.7 338.7h0M118.4 303.7h0M108.1 320.5h0M110.3 330.5h0M98.7 317.7h0M101.9 350.5h0M104.8 354.6h0M123.0 346.9h0M99.3 343.6h0M114.1 323.3h0M102.4 351.0h0M101.6 315.6h0M98.5 347.2h0M98.3 318.7h0M103.3 295.9h0M102.6 341.9h0M117.8 343.4h0M103.3 351.8h0M102.8 327.2h0M98.8 304.8h0M101.4 339.2h0M99.2 347.9h0M111.5 347.7h0M101.7 349.3h0M101.0 337.8h0M100.7 356.1h0M109.7 318.7h0M101.7 350.0h0M98.9 348.2h0M100.2 355.5h0M99.5 355.5h0M100.2 343.7h0M99.5 345.0h0M98.8 343.6h0M120.9 351.8h0M97.8 346.2h0M113.7 322.5h0M122.0 285.1h0M99.4 328.3h0M99.8 346.9h0M110.6 283.8h0M105.8 328.7h0M110.3 328.8h0M100.4 315.2h0M108.1 319.9h0M99.0 345.2h0M100.5 317.3h0M106.2 347.7h0M105.8 351.7h0M98.3 354.3h0M131.7 354.2h0M99.7 352.8h0M100.2 353.4h0M132.8 348.8h0M103.1 336.4h0M99.8 303.1h0M127.5 349.0h0M109.0 343.7h0M99.7 347.6h0M103.3 331.6h0M115.4 353.4h0M102.9 323.3h0M110.1 349.8h0M105.3 295.1h0M104.4 348.8h0M98.2 297.0h0M100.5 310.6h0M101.8 338.7h0M119.5 354.3h0M98.4 313.0h0M98.2 352.8h0M97.7 356.1h0M106.2 351.7h0M115.1 345.8h0M99.3 326.4h0M103.0 353.7h0M106.5 286.7h0M112.0 352.4h0M114.0 296.7h0M98.1 319.3h0M100.4 351.9h0M105.1 354.1h0M132.2 345.2h0M100.4 355.2h0M101.9 328.9h0M117.2 354.8h0M121.0 351.0h0M109.8 342.5h0M100.9 343.8h0M128.7 348.8h0M106.1 321.7h0M135.3 346.6h0M104.8 340.2h0M102.8 339.8h0M100.6 306.1h0M99.7 305.1h0M105.2 353.7h0M103.0 317.6h0M99.8 301.4h0M112.8 301.6h0M122.8 352.4h0M107.6 356.1h0M145.8 356.1h0M122.8 355.7h0M100.7 325.7h0M99.3 328.3h0M134.9 355.5h0M102.7 353.4h0M101.9 342.4h0M102.4 325.7h0M100.4 307.7h0M98.2 344.9h0M132.6 333.2h0M116.3 355.5h0M103.5 355.4h0M101.8 343.1h0M112.3 309.4h0M99.6 288.7h0M115.2 348.2h0M108.0 315.1h0M110.7 348.2h0M97.9 342.2h0M104.2 351.8h0M135.4 354.7h0M105.9 336.2h0M99.5 333.9h0M131.0 350.3h0M97.9 355.8h0M106.4 349.0h0M97.9 355.9h0M106.1 352.4h0M101.7 323.3h0M102.2 330.9h0M98.0 313.9h0M101.1 350.8h0M111.4 350.4h0M111.3 324.4h0M127.1 342.7h0M101.8 347.7h0M107.6 330.5h0M111.8 336.9h0M113.0 327.2h0M100.5 343.9h0M114.8 346.5h0M108.5 354.4h0M101.5 337.8h0M108.6 314.5h0M102.5 355.6h0M111.6 345.8h0M97.5 303.6h0M100.7 351.7h0M103.3 347.0h0M97.7 291.2h0M101.8 343.6h0M105.3 336.2h0M101.0 347.9h0M110.5 348.9h0M152.6 352.5h0M105.6 301.4h0M115.8 353.0h0M105.4 352.4h0M111.1 339.1h0M104.0 311.5h0M103.3 299.2h0M102.3 319.8h0M99.7 355.1h0M107.2 347.0h0M103.0 353.9h0M112.7 343.0h0M99.5 341.0h0M111.5 342.8h0M97.9 355.8h0M115.6 345.7h0M97.6 346.1h0M97.8 347.5h0M97.9 317.2h0M97.5 343.6h0M105.7 356.0h0M110.3 351.9h0M100.1 349.7h0M110.2 350.2h0M115.6 355.2h0M112.4 349.4h0M104.3 355.5h0M97.6 344.4h0M103.5 328.8h0M98.3 319.3h0M113.1 352.8h0M98.1 351.3h0M120.6 349.2h0M102.9 342.4h0M98.9 327.5h0M102.6 353.8h0M100.1 353.8h0M107.6 350.4h0M99.7 350.9h0M101.5 352.7h0M100.2 343.8h0M106.6 349.5h0M99.4 313.2h0M107.2 354.6h0M103.1 351.8h0M98.3 334.0h0M112.3 354.5h0M102.7 331.0h0M101.0 317.3h0M103.3 352.2h0M109.5 348.0h0M115.1 350.0h0M100.5 351.3h0M99.9 333.5h0M108.6 327.3h0M99.3 354.9h0M100.3 343.9h0M115.8 349.7h0M110.6 348.2h0M99.8 352.6h0M100.6 335.7h0M99.2 320.6h0M97.6 321.2h0M97.9 343.3h0M102.3 352.8h0M124.8 350.9h0M97.8 343.3h0M113.2 340.6h0M101.4 355.5h0M111.8 311.4h0M107.1 349.5h0M104.3 354.9h0M120.6 354.1h0M101.8 346.7h0M99.1 348.4h0M100.7 351.8h0M110.5 347.5h0M114.4 351.5h0M100.7 301.4h0M107.1 355.1h0M120.5 347.8h0M120.6 342.5h0M137.1 350.9h0M97.9 284.5h0M114.0 340.9h0M97.8 354.3h0M99.8 345.5h0M98.6 338.7h0M112.7 324.1h0M111.3 315.5h0M103.3 350.6h0M98.4 349.4h0M104.5 338.5h0M109.7 348.7h0M113.4 350.6h0M98.3 352.4h0M107.3 332.7h0M103.2 351.1h0M97.9 350.8h0M118.8 344.5h0M101.2 329.9h0M97.5 330.2h0M101.0 347.7h0M98.4 345.5h0M98.8 354.0h0M154.9 350.1h0M100.6 353.1h0M113.8 354.5h0M102.0 341.4h0M99.7 355.6h0M97.8 346.7h0M111.0 353.6h0M98.1 348.4h0M101.9 342.7h0M99.3 326.9h0M98.0 334.4h0M101.6 354.9h0M101.3 332.5h0M108.8 354.8h0M110.4 311.4h0M99.7 353.4h0M106.7 352.7h0M105.2 311.0h0M107.8 347.7h0M110.8 327.8h0M99.4 339.5h0M111.7 349.4h0M132.6 354.7h0M117.1 355.6h0M98.6 349.2h0M100.8 354.5h0M103.9 346.7h0M117.1 336.6h0M100.0 352.9h0M101.6 348.4h0M103.1 316.8h0M104.4 346.1h0M102.9 353.1h0M135.0 342.9h0M98.2 350.7h0M106.7 353.3h0M114.7 349.7h0M116.7 350.5h0M99.2 353.6h0M101.2 338.6h0M97.8 336.1h0M110.4 340.5h0M100.6 339.8h0M128.5 344.6h0M100.8 344.9h0M98.7 352.8h0M104.8 327.6h0M102.2 307.2h0M126.1 354.0h0M102.9 349.0h0M104.2 343.8h0M97.7 339.2h0M101.6 316.7h0M104.9 345.5h0M100.5 332.4h0M98.6 310.6h0M100.1 345.1h0M108.5 355.5h0M98.6 344.4h0M99.3 324.5h0M98.9 348.5h0M105.4 303.8h0M109.6 341.8h0M115.4 355.6h0M104.7 354.8h0M101.4 338.3h0M97.9 332.2h0M105.3 345.4h0M108.1 330.8h0M101.8 318.0h0M102.8 354.0h0M105.7 307.6h0M99.9 348.8h0M108.9 341.0h0M100.8 350.7h0M102.0 351.6h0M106.0 351.0h0M108.1 339.6h0M100.2 337.6h0M98.3 329.3h0M110.4 346.2h0M103.6 339.6h0M108.8 321.7h0M116.5 352.5h0M101.9 351.6h0M122.6 355.6h0M104.8 332.8h0M108.4 345.7h0M98.3 315.8h0M110.5 355.1h0M123.8 355.1h0M103.0 322.8h0M103.1 351.7h0M99.4 313.5h0M118.2 337.9h0M97.7 343.4h0M104.8 322.3h0M119.4 342.2h0M101.8 355.6h0M117.2 325.0h0M104.4 342.9h0M116.4 347.1h0M101.9 328.2h0M98.9 321.0h0M97.6 327.6h0M104.0 355.5h0M107.0 323.8h0M104.4 323.6h0M97.6 341.5h0M104.3 346.1h0M101.4 304.4h0M101.4 343.8h0M99.0 326.7h0M102.2 334.4h0M107.0 342.8h0M100.8 352.6h0M100.0 317.7h0M106.2 342.4h0M110.9 348.5h0M97.6 346.1h0M98.6 306.3h0M98.4 348.3h0M101.2 341.0h0M102.2 353.0h0M115.3 334.9h0M98.9 351.9h0M100.8 299.7h0M121.0 340.0h0M97.6 348.3h0M98.4 333.9h0M100.5 331.0h0M97.7 344.9h0M101.5 320.6h0M110.0 354.2h0M110.9 307.7h0M98.4 352.8h0M105.2 345.2h0M99.8 340.6h0M110.9 341.6h0M100.4 340.6h0M103.2 352.6h0M102.7 347.3h0M106.1 347.6h0M102.1 354.3h0M99.2 316.8h0M111.1 338.3h0M104.6 347.7h0M98.1 322.1h0M113.7 347.9h0M107.6 344.4h0M98.9 328.8h0M100.0 353.7h0M99.2 324.7h0M103.4 297.1h0M99.3 341.8h0M99.9 300.3h0M106.8 340.8h0M103.0 341.7h0M98.5 324.9h0M133.8 354.5h0M99.4 323.4h0M97.9 351.7h0M99.6 340.8h0M116.9 340.8h0M98.5 344.2h0M110.6 325.7h0M128.8 354.2h0M104.6 305.0h0M107.2 343.9h0M99.3 311.7h0M100.5 321.8h0M99.8 335.3h0M114.9 341.9h0M130.6 353.3h0M118.9 350.3h0M107.4 344.6h0M117.4 337.2h0M98.8 308.0h0M113.3 350.1h0M123.7 354.7h0M102.7 326.9h0M118.7 346.1h0M118.9 356.1h0M98.8 351.9h0M98.3 353.7h0M103.2 349.2h0M118.6 345.3h0M132.7 347.7h0M105.2 345.2h0M123.8 354.6h0M98.7 341.3h0M113.0 335.6h0M119.0 356.1h0M110.0 353.7h0M125.3 354.8h0M98.9 338.3h0M103.7 330.3h0M128.5 351.9h0M111.2 349.0h0M107.1 354.7h0M115.8 355.9h0M99.4 351.3h0M99.6 342.8h0M110.0 350.1h0M100.3 342.1h0M105.2 354.4h0M120.7 326.0h0M97.9 338.9h0M103.9 355.3h0M98.0 343.0h0M104.9 338.5h0M115.4 287.4h0M109.4 295.5h0M100.0 334.5h0M106.7 355.9h0M132.9 347.1h0M115.1 346.6h0M98.7 326.9h0M100.9 317.2h0M119.1 355.1h0M118.2 336.9h0M103.2 333.0h0M102.7 332.5h0M98.9 336.3h0M102.0 356.0h0M108.0 348.1h0M104.6 331.4h0M101.6 351.4h0M100.7 351.0h0M98.7 349.5h0M102.3 351.5h0M97.7 345.2h0M115.9 307.8h0M101.5 351.7h0M115.4 350.4h0M104.9 353.5h0M102.0 342.8h0M109.4 338.7h0M116.3 327.2h0M99.2 335.4h0M104.8 342.1h0M100.1 340.2h0M104.6 318.4h0M104.5 318.8h0M99.3 335.6h0M133.4 352.3h0M115.2 333.6h0M110.2 320.4h0M108.8 330.7h0M127.0 347.1h0M108.1 333.2h0M125.9 355.0h0M113.0 352.3h0M102.2 337.8h0M98.3 326.7h0M98.0 344.5h0M101.5 328.3h0M98.5 346.3h0M97.5 353.0h0M107.4 329.8h0M141.8 327.0h0M106.4 343.5h0M101.5 338.7h0M135.7 351.3h0M107.6 340.3h0M131.5 355.1h0M121.9 349.8h0M103.1 337.5h0M116.9 355.6h0M124.4 336.2h0M97.8 330.3h0M110.8 341.2h0M119.3 354.4h0M127.0 347.7h0M101.4 353.5h0M99.9 319.6h0M104.0 333.9h0M112.7 354.2h0M111.1 353.1h0M100.3 346.1h0M99.4 330.0h0M101.2 354.1h0M99.9 342.4h0M118.6 343.1h0M102.2 351.1h0M97.9 342.5h0M101.5 310.7h0M104.3 348.8h0M100.6 345.2h0M102.3 335.0h0M101.2 332.5h0M100.5 332.8h0M101.1 322.5h0M109.1 352.7h0M106.5 339.0h0M112.1 349.3h0M110.4 303.4h0M101.3 342.2h0M124.4 337.7h0M104.8 350.0h0M101.5 337.6h0M98.1 335.0h0M113.0 319.4h0M107.9 338.8h0M130.3 356.0h0M103.7 310.2h0M121.3 342.5h0M124.2 355.3h0M100.4 337.2h0M98.4 326.2h0M97.9 344.0h0M101.8 347.1h0M123.6 355.3h0M98.3 325.7h0M112.2 350.7h0M98.8 355.5h0M102.7 317.9h0M109.8 353.2h0M103.4 342.6h0M100.5 335.4h0M102.8 345.0h0M104.6 349.2h0M103.7 355.0h0M97.6 331.3h0M97.6 337.3h0M120.1 353.0h0M106.1 345.2h0M99.4 336.8h0M116.2 348.8h0M117.3 349.2h0M97.8 349.0h0M109.0 342.5h0M98.4 342.7h0M100.8 349.6h0M114.8 329.0h0M98.1 355.7h0M110.9 341.4h0M104.1 353.8h0M108.5 353.1h0M110.5 351.1h0M101.0 347.1h0M111.7 356.1h0M110.6 348.4h0M101.1 351.6h0M101.9 328.1h0M104.8 337.3h0M102.4 336.5h0M100.6 352.0h0M116.2 332.4h0M106.4 348.9h0M99.0 334.3h0M101.0 322.9h0M100.4 326.4h0M100.0 336.1h0M139.5 349.7h0M102.1 330.2h0M118.0 315.1h0M120.2 350.6h0M121.3 353.5h0M107.1 304.7h0M101.0 318.5h0M104.1 335.1h0M102.5 349.4h0M105.2 355.6h0M104.9 322.8h0M100.8 347.9h0M98.5 298.9h0M100.7 353.4h0M102.9 336.9h0M103.6 333.6h0M103.0 352.6h0M114.4 339.1h0M106.8 347.4h0M103.0 354.0h0M98.6 295.4h0M99.6 331.8h0M98.3 349.3h0M109.7 339.7h0M118.1 349.3h0M97.8 318.9h0M99.0 302.6h0M113.6 352.1h0M108.2 345.5h0M101.4 319.4h0M107.3 349.7h0M97.6 341.6h0M101.8 327.0h0M97.7 342.9h0M101.0 348.1h0M100.9 347.1h0M107.2 314.7h0M98.9 346.6h0M97.9 340.8h0M132.5 351.0h0M99.4 353.2h0M98.9 354.2h0M101.8 333.8h0M105.7 301.6h0M113.4 354.9h0M122.0 318.7h0M99.5 339.8h0M145.5 340.0h0M104.3 354.7h0M97.9 334.4h0M99.5 342.1h0M98.9 350.3h0M118.2 353.8h0M104.3 355.4h0M98.2 304.9h0M102.9 335.7h0M97.8 307.6h0M114.7 312.0h0M100.8 348.3h0M102.0 345.8h0M98.9 328.8h0M103.8 352.9h0M101.8 341.3h0M99.8 342.0h0M115.2 342.5h0M103.6 351.6h0M124.6 351.9h0M107.8 345.4h0M101.3 329.8h0M99.8 340.6h0M101.1 319.2h0M140.4 352.7h0M107.3 355.9h0M102.8 350.1h0M99.4 291.5h0M103.5 353.2h0M101.6 349.4h0M101.0 341.3h0M99.1 343.4h0M106.9 346.9h0M105.6 345.0h0M112.1 355.0h0M109.9 349.5h0M97.6 349.0h0M102.8 338.4h0M104.4 343.1h0M99.6 340.9h0M97.7 330.4h0M105.2 352.6h0M112.5 341.3h0M121.8 336.5h0M103.4 355.3h0M105.8 325.3h0M108.3 342.6h0M109.7 324.4h0M106.9 343.7h0M101.5 354.8h0M101.0 350.9h0M100.6 328.1h0M106.7 342.2h0M98.1 341.2h0M139.3 346.5h0M99.5 343.5h0M97.6 339.7h0M114.8 335.4h0M99.0 352.2h0M125.2 347.9h0M98.4 341.1h0M102.4 347.5h0M99.3 338.9h0M109.3 350.0h0M108.1 355.5h0M97.5 350.6h0M105.2 331.3h0M100.1 335.5h0M99.0 339.2h0M109.7 343.7h0M110.5 351.7h0M103.0 347.5h0M100.6 345.5h0M101.7 341.6h0M110.8 312.5h0M100.5 350.3h0M100.6 353.6h0M99.6 336.4h0M105.3 347.8h0M98.2 329.5h0M97.8 349.6h0M100.6 336.0h0M105.0 335.9h0M98.6 354.5h0M107.5 343.1h0M126.0 355.3h0M109.0 354.8h0M106.2 344.7h0M106.0 350.0h0M111.3 319.1h0M98.6 352.7h0M101.4 343.2h0M108.3 354.5h0M101.9 350.4h0M112.8 294.1h0M98.1 287.5h0M97.6 329.4h0M119.8 338.4h0M111.5 355.1h0M100.7 343.2h0M123.1 354.4h0M99.9 349.4h0M117.2 335.0h0M100.7 351.8h0M106.4 352.2h0M107.6 322.6h0M112.2 304.2h0M113.3 323.9h0M97.8 315.9h0M99.1 339.7h0M103.4 320.1h0M104.2 338.4h0M108.9 298.4h0M99.6 337.9h0M112.8 350.1h0M99.8 329.9h0M98.3 321.8h0M100.2 328.2h0M103.1 308.4h0M135.5 355.6h0M108.6 340.5h0M108.2 353.4h0M113.1 352.9h0M116.4 354.0h0M101.8 347.2h0M98.7 342.8h0M104.6 324.0h0M103.6 325.4h0M99.1 349.3h0M105.8 308.1h0M109.4 332.6h0M98.0 351.1h0M108.9 313.1h0M103.3 311.8h0M114.8 349.5h0M100.3 354.9h0M99.8 345.1h0M123.1 355.9h0M106.4 329.5h0M104.9 336.6h0M101.4 332.5h0M97.8 305.7h0M103.5 345.1h0M99.0 349.1h0M101.8 308.5h0M103.0 326.1h0M102.3 350.9h0M98.9 347.5h0M99.4 342.0h0M103.0 350.9h0M97.7 314.5h0M109.3 355.4h0M98.8 313.3h0M101.9 309.4h0M123.4 343.5h0M114.9 348.7h0M101.8 350.9h0M98.2 349.1h0M99.2 336.1h0M107.8 348.2h0M99.7 343.2h0M97.6 338.4h0M132.5 344.5h0M111.8 321.3h0M98.9 345.5h0M109.3 348.1h0M99.1 332.6h0M100.6 346.1h0M100.3 333.7h0M115.0 346.0h0M106.6 335.1h0M97.6 337.3h0M101.6 353.6h0M99.3 337.2h0M112.7 345.2h0M100.0 340.5h0M103.9 334.6h0M99.2 355.2h0M101.8 349.9h0M100.9 347.5h0M97.7 349.8h0M103.6 349.2h0M108.6 344.0h0M117.7 342.9h0M98.7 353.0h0M103.8 328.0h0M125.2 349.3h0M98.6 325.7h0M99.3 337.0h0M128.8 344.3h0M101.2 345.3h0M98.8 354.5h0M100.0 301.1h0M100.1 349.4h0M102.0 340.2h0M109.7 350.2h0M103.6 352.5h0M100.9 339.5h0M115.7 354.9h0M100.0 346.5h0M100.2 349.2h0M121.7 348.5h0M98.3 344.8h0M107.8 350.5h0M98.1 347.8h0M99.7 348.5h0M101.4 326.3h0M105.7 283.8h0M101.2 351.1h0M101.9 351.4h0M121.2 355.3h0M100.1 343.3h0M99.6 342.6h0M109.0 332.2h0M103.0 352.9h0M101.2 352.4h0M106.8 356.0h0M100.5 283.5h0M105.6 343.3h0M99.4 340.3h0M111.6 352.6h0M113.0 348.7h0M99.2 349.2h0M101.5 350.1h0M102.6 343.6h0M116.0 303.0h0M110.4 350.8h0M108.2 353.7h0M109.6 345.6h0M98.6 348.9h0M119.6 335.4h0M101.4 351.7h0M116.9 350.8h0M99.4 350.2h0M99.7 337.5h0M98.1 355.9h0M99.2 355.2h0M108.6 324.5h0M100.9 334.6h0M120.9 353.7h0M100.5 314.3h0M101.4 344.5h0M112.4 342.7h0M97.5 355.8h0M98.5 337.7h0M97.7 334.0h0M104.6 316.6h0M99.5 352.8h0M101.0 336.2h0M108.7 350.1h0M130.0 341.3h0M115.5 354.8h0M111.0 354.3h0M110.1 339.1h0M119.2 354.3h0M99.7 343.5h0M97.8 349.3h0M100.6 330.1h0M115.1 347.3h0M100.8 350.6h0M100.9 323.7h0M97.5 350.4h0M104.4 337.8h0M124.0 352.5h0M106.7 324.7h0M100.1 345.9h0M119.9 342.1h0M104.0 328.9h0M99.0 326.7h0M107.9 350.4h0M104.0 307.9h0M98.4 352.4h0M121.5 340.9h0M106.5 349.7h0M102.7 332.8h0M113.7 348.1h0M98.4 349.0h0M109.0 331.1h0M109.7 351.0h0M104.2 337.0h0M101.2 332.7h0M102.7 305.1h0M97.9 348.9h0M113.4 353.4h0M118.6 355.9h0M133.6 350.5h0M116.4 353.3h0M107.2 345.9h0M97.9 349.6h0M108.1 342.8h0M111.2 354.1h0M106.6 283.1h0M120.6 354.6h0M100.9 355.4h0M128.6 354.1h0M115.4 339.4h0M107.1 353.8h0M135.8 354.9h0M119.8 329.2h0M103.2 339.9h0M97.5 353.8h0M99.2 354.1h0M97.7 320.5h0M102.8 334.1h0M97.9 345.2h0M103.4 350.0h0M118.1 332.2h0M106.8 313.4h0M99.0 346.5h0M97.9 332.2h0M116.8 330.1h0M106.1 349.6h0M104.2 348.0h0M99.7 332.4h0M102.6 346.6h0M119.2 342.0h0M100.5 345.1h0M100.6 353.1h0M117.5 344.9h0M103.1 341.8h0M105.5 310.1h0M100.8 354.5h0M100.7 338.2h0M98.1 355.8h0M102.2 319.8h0M99.9 355.0h0M136.3 349.2h0M115.4 354.8h0M98.7 300.8h0M104.1 323.3h0M97.6 296.2h0M99.3 344.7h0M113.5 346.1h0M97.5 352.5h0M100.2 332.7h0M97.8 339.3h0M111.7 332.7h0M139.9 346.0h0M103.4 348.8h0M102.4 345.1h0M122.1 342.6h0M103.7 348.4h0M100.2 347.7h0M109.6 355.1h0M109.7 353.5h0M104.2 351.1h0M97.6 348.8h0M98.4 351.5h0M97.7 329.0h0M107.3 353.0h0M107.6 340.2h0M102.4 316.8h0M106.2 351.5h0M124.0 347.1h0M104.0 346.7h0M99.6 328.6h0M113.8 354.8h0M120.8 352.2h0M128.4 352.1h0M99.3 334.1h0M104.2 336.6h0M102.5 349.4h0M101.0 329.1h0M98.0 354.6h0M114.3 337.4h0M107.6 338.0h0M105.0 331.1h0M107.8 341.5h0M120.0 353.7h0M151.1 343.6h0M108.0 343.4h0M100.4 330.8h0M105.1 337.6h0M102.4 347.6h0M99.1 355.0h0M105.9 354.4h0M127.9 354.3h0M113.9 344.8h0M99.9 338.7h0M112.5 352.9h0M102.4 349.2h0M101.7 349.1h0M117.0 332.0h0M101.1 342.8h0M132.8 353.9h0M130.7 345.8h0M111.1 353.9h0M100.6 351.0h0M104.9 348.8h0M103.3 345.6h0M114.3 349.8h0M102.5 308.3h0M104.2 346.2h0M98.1 334.7h0M101.3 338.9h0M102.3 336.2h0M98.3 346.4h0M97.8 349.7h0M103.2 340.4h0M98.0 354.3h0M107.7 351.2h0M112.9 340.9h0M106.2 355.9h0M100.3 340.5h0M122.6 348.6h0M103.9 323.0h0M97.7 320.1h0M98.3 335.6h0M102.0 327.5h0M110.4 345.0h0M129.2 353.1h0M105.6 353.3h0M101.5 355.7h0M97.8 354.9h0M101.3 356.0h0M101.3 339.5h0M121.2 347.7h0M140.1 354.0h0M106.4 335.1h0M105.5 330.2h0M99.3 314.8h0M98.9 315.3h0M101.0 328.7h0M105.3 344.1h0M98.2 309.2h0M97.8 337.3h0M108.5 353.0h0M127.3 353.4h0M108.1 345.1h0M108.3 347.5h0M98.9 345.5h0M138.4 341.1h0M97.8 329.5h0M112.2 353.2h0M98.9 335.7h0M97.6 343.2h0M110.1 340.7h0M99.6 333.3h0M100.3 352.6h0M102.1 326.3h0M104.2 345.3h0M111.0 342.9h0M98.9 354.9h0M99.9 354.3h0M100.0 325.4h0M104.5 347.1h0M97.8 351.5h0M103.7 326.6h0M125.5 294.8h0M100.6 348.5h0M99.9 342.2h0M112.9 343.6h0M107.3 351.9h0M104.8 344.7h0M98.5 322.5h0M97.9 321.8h0M102.3 340.4h0M101.3 343.6h0M98.8 354.3h0M102.5 314.4h0M99.6 306.2h0M97.7 332.0h0M99.5 342.0h0M103.1 341.6h0M98.9 305.1h0M100.3 346.6h0M135.4 356.0h0M102.0 342.6h0M99.0 311.3h0M100.2 353.4h0M107.0 343.6h0M107.0 352.1h0M132.9 343.6h0M100.5 344.2h0M101.3 346.2h0M98.0 353.0h0M100.7 317.6h0M100.5 353.8h0M98.2 345.5h0M100.4 319.4h0M101.9 336.2h0M99.6 337.1h0M114.3 341.7h0M101.9 354.8h0M101.4 335.6h0M98.5 351.7h0M108.2 347.9h0M107.7 337.5h0M101.7 349.8h0M97.8 345.2h0M113.0 355.8h0M103.2 340.6h0M114.8 316.9h0M104.4 327.1h0M99.0 338.3h0M99.0 307.4h0M102.9 344.8h0M133.6 354.4h0M97.9 352.3h0M112.9 346.2h0M100.0 341.3h0M107.7 349.5h0M107.5 346.2h0M107.3 344.1h0M107.5 337.3h0M109.0 354.1h0M114.3 353.6h0M100.6 340.2h0M99.9 334.1h0M99.6 334.3h0M103.9 348.3h0M102.0 344.3h0M101.2 344.2h0M101.9 326.6h0M100.5 343.0h0M98.2 350.4h0M98.2 345.2h0M104.8 349.8h0M112.5 341.6h0M98.0 347.2h0M100.1 349.2h0M101.3 341.4h0M98.0 350.2h0M100.1 352.4h0M102.4 336.3h0M102.2 346.0h0M99.0 348.8h0M100.2 311.5h0M101.4 349.0h0M102.0 348.7h0M97.8 347.8h0M99.7 333.7h0M112.9 355.4h0M99.6 355.3h0M108.7 341.9h0M100.4 315.3h0M101.7 344.6h0M106.4 340.3h0M102.1 325.1h0M101.6 351.7h0M101.5 356.0h0M108.9 354.4h0M101.6 350.7h0M107.6 336.2h0M125.2 356.1h0M102.0 329.0h0M116.3 347.3h0M103.1 339.8h0M105.3 299.0h0M97.9 319.1h0M97.9 329.4h0M106.2 338.1h0M118.5 341.3h0M130.8 347.7h0M103.5 306.6h0M116.5 343.8h0M102.3 337.9h0M140.0 350.5h0M99.0 335.5h0M102.3 346.4h0M102.1 353.7h0M98.8 324.1h0M98.4 355.4h0M121.7 352.0h0M101.8 355.9h0M102.0 341.1h0M99.9 335.2h0M114.4 320.5h0M98.8 334.1h0M107.3 351.7h0M101.0 352.5h0M105.8 329.0h0M99.2 340.5h0M101.9 349.3h0M114.8 356.1h0M99.0 299.1h0M131.3 341.2h0M98.7 338.9h0M102.3 355.7h0M106.4 355.2h0M114.3 330.7h0M102.0 355.0h0M109.4 340.6h0M99.8 340.0h0M106.0 337.9h0M101.6 339.8h0M98.2 354.0h0M98.8 347.1h0M98.9 351.0h0M105.3 314.0h0M103.5 352.4h0M107.7 337.5h0M107.0 341.1h0M119.6 351.3h0M117.0 347.6h0M106.0 341.9h0M107.3 317.9h0M106.6 347.6h0M101.2 348.8h0M104.3 347.7h0M102.6 328.9h0M98.0 327.9h0M99.3 349.2h0M110.9 321.9h0M100.9 347.0h0M99.4 328.2h0M106.3 352.6h0M101.5 309.4h0M97.6 343.1h0M111.8 345.4h0M111.2 348.9h0M116.7 332.8h0M123.0 331.6h0M111.2 303.5h0M100.8 323.8h0M103.6 354.2h0M102.0 351.1h0M117.5 334.0h0M144.1 351.2h0M98.9 315.2h0M102.3 351.2h0M99.5 313.6h0M112.1 355.9h0M111.8 343.8h0M104.1 284.0h0M98.3 350.4h0M111.6 355.3h0M119.2 349.5h0M105.7 352.2h0M98.4 356.0h0M131.0 354.4h0M109.1 346.2h0M105.3 353.8h0M123.5 346.1h0M98.3 338.3h0M122.2 347.7h0M97.9 307.2h0M99.4 281.9h0M100.1 347.0h0M116.7 355.2h0M120.6 329.6h0M100.9 344.8h0M98.3 353.2h0M107.2 333.9h0M120.4 347.6h0M97.7 345.2h0M105.6 348.5h0M104.5 332.3h0M112.0 353.2h0M98.1 322.9h0M104.4 353.3h0M118.7 351.4h0M98.9 321.8h0M109.7 351.9h0M103.1 343.5h0M101.8 332.0h0M104.6 348.9h0M97.8 333.0h0M101.5 349.5h0M108.3 342.0h0M101.3 336.7h0M98.8 354.2h0M103.9 352.4h0M103.5 319.7h0M99.1 330.5h0M109.4 328.9h0M126.1 342.9h0M101.2 351.9h0M116.0 340.3h0M115.6 347.5h0M104.4 355.9h0M99.1 352.1h0M104.2 322.2h0M102.9 343.3h0M100.1 349.7h0M100.4 345.1h0M109.3 350.3h0M101.1 347.9h0M107.7 350.8h0M104.3 311.4h0M117.2 353.8h0M99.7 317.1h0M106.0 346.4h0M107.6 355.4h0M102.1 354.8h0M98.0 291.1h0M108.4 353.2h0M110.3 334.5h0M105.1 326.6h0M104.4 322.9h0M124.5 327.0h0M113.0 334.6h0M117.1 341.5h0M115.4 347.2h0M100.5 300.3h0M107.0 298.6h0M116.8 353.7h0M125.7 355.2h0M101.2 350.0h0M107.4 351.2h0M113.2 355.0h0M125.1 350.3h0M98.7 340.8h0M99.0 348.1h0M105.1 353.7h0M115.5 354.5h0M104.1 327.6h0M116.5 354.9h0M103.8 342.7h0M123.3 350.7h0M116.1 316.6h0M115.0 347.3h0M99.9 343.2h0M103.8 344.0h0M104.7 353.9h0M105.7 338.5h0M98.2 355.1h0M105.9 304.4h0M98.4 327.7h0M109.4 354.3h0M99.5 345.8h0M106.1 283.0h0M99.2 314.1h0M101.6 353.8h0M105.7 325.8h0M103.5 340.6h0M99.1 343.8h0M99.0 344.8h0M99.8 342.8h0M97.8 346.6h0M108.4 354.8h0M102.2 355.3h0M106.3 325.5h0M106.6 286.6h0M127.8 346.6h0M107.2 324.9h0M97.5 356.1h0M102.5 330.1h0M103.2 318.5h0M104.6 331.7h0M101.0 349.5h0M105.1 339.1h0M102.8 354.7h0M122.1 354.8h0M98.4 349.0h0M98.1 355.2h0M105.7 346.8h0M121.3 353.6h0M126.0 356.0h0M102.5 320.9h0M106.1 322.2h0M99.5 352.1h0M104.2 348.2h0M100.8 348.8h0M100.8 350.9h0M98.2 354.7h0M99.4 347.0h0M131.2 342.3h0M99.8 348.7h0M113.2 345.6h0M98.4 347.7h0M108.8 352.9h0M137.0 352.7h0M106.2 315.0h0M104.6 349.6h0M122.0 344.3h0M104.3 322.5h0M101.8 332.4h0M105.2 355.5h0M102.2 349.1h0M98.6 354.7h0M105.7 339.3h0M121.7 341.9h0M114.5 355.0h0M98.1 332.0h0M101.0 355.1h0M107.8 352.6h0M111.0 329.2h0M105.7 351.7h0M98.0 304.1h0M107.8 346.7h0M137.3 353.2h0M118.7 306.2h0M127.1 355.4h0M99.0 353.9h0M112.1 328.5h0M99.9 337.2h0M123.5 353.5h0M98.8 354.1h0M105.1 311.1h0M125.1 349.1h0M98.6 322.0h0M110.6 349.8h0M97.8 337.4h0M109.0 334.2h0M144.4 353.4h0M107.2 332.6h0M105.7 352.2h0M100.9 348.5h0M98.1 294.2h0M103.1 337.5h0M101.0 351.6h0M99.1 353.0h0M104.3 355.2h0M105.3 355.4h0M102.4 352.8h0M99.5 348.5h0M101.6 350.3h0M114.6 349.5h0M101.0 341.5h0M100.7 343.2h0M100.1 335.4h0M112.2 314.2h0M105.7 338.6h0M98.0 331.9h0M116.3 344.7h0M98.5 354.2h0M100.3 325.0h0M100.4 355.8h0M108.9 353.9h0M101.2 354.8h0M105.3 347.8h0M102.6 338.5h0M103.6 346.8h0M100.3 334.8h0M98.9 343.3h0M103.2 308.6h0M101.4 321.8h0M97.7 321.8h0M99.0 334.0h0M100.7 352.2h0M99.5 347.9h0M107.5 347.4h0M99.1 347.1h0M119.2 354.6h0M102.9 351.9h0M103.5 335.8h0M102.6 344.2h0M109.3 351.4h0M146.9 351.0h0M106.9 353.9h0M106.9 355.2h0M102.8 350.2h0M110.2 347.8h0M110.4 335.5h0M149.0 355.7h0M108.1 344.9h0M108.8 353.1h0M116.6 354.6h0M114.9 347.4h0M122.3 346.9h0M102.4 346.8h0M98.3 355.7h0M105.1 325.8h0M110.9 337.0h0M102.2 332.0h0M103.8 352.1h0M131.0 314.6h0M113.2 342.4h0M106.5 350.1h0M106.6 355.9h0M116.8 319.5h0M104.4 356.0h0M102.3 348.2h0M115.2 308.6h0M105.2 354.2h0M103.1 352.8h0M106.5 340.6h0M105.4 344.1h0M101.8 352.8h0M108.2 352.8h0M101.1 325.1h0M112.9 319.8h0M102.7 296.8h0M99.0 349.7h0M107.7 345.0h0M102.3 332.2h0M100.7 332.6h0M110.9 333.4h0M99.3 350.0h0M103.5 323.3h0M129.1 346.7h0M106.7 310.7h0M105.0 336.1h0M99.5 355.1h0M101.5 342.6h0M102.0 348.6h0M115.9 351.2h0M103.1 355.6h0M105.9 355.0h0M101.9 325.4h0M115.4 324.5h0M100.0 337.7h0M103.7 313.6h0M124.2 339.1h0M99.4 348.9h0M98.8 355.4h0M107.7 322.4h0M112.0 316.3h0M100.9 349.5h0M101.7 348.8h0M112.3 345.4h0M105.9 337.4h0M108.0 318.3h0M102.2 340.2h0M109.1 355.2h0M98.3 331.2h0M111.2 337.0h0M119.0 355.5h0M99.4 348.4h0M127.5 342.4h0M98.2 334.8h0M112.4 306.2h0M101.0 340.7h0M98.7 334.3h0M100.2 339.1h0M101.6 340.8h0M98.2 348.2h0M100.3 346.9h0M108.5 330.5h0M100.4 345.7h0M112.8 337.7h0M111.5 352.4h0M115.6 351.8h0M109.0 340.4h0M98.3 323.1h0M99.5 355.6h0M102.2 344.8h0M101.2 355.3h0M107.6 341.1h0M99.1 296.5h0M108.3 341.8h0M105.2 340.1h0M98.6 355.2h0M99.9 309.5h0M107.9 353.8h0M100.5 353.1h0M106.9 310.7h0M98.2 325.0h0M98.2 337.3h0M98.9 303.3h0M104.6 351.0h0M101.8 354.7h0M101.9 354.0h0M107.9 323.2h0M102.1 327.0h0M122.1 346.8h0M116.4 344.5h0M98.4 295.1h0M107.0 353.1h0M102.4 298.2h0M99.3 336.2h0M107.1 293.8h0M114.4 291.7h0M101.4 347.9h0M102.7 346.4h0M99.4 355.6h0M102.3 353.0h0M119.3 340.5h0M108.8 308.5h0M99.9 351.9h0M106.8 353.3h0M104.8 327.5h0M108.7 350.3h0M101.3 336.3h0M103.8 351.3h0M97.7 342.1h0M100.3 342.1h0M104.4 347.7h0M111.5 351.9h0M112.5 321.0h0M100.6 290.8h0M109.6 320.6h0M98.5 326.8h0M98.2 342.6h0M99.4 316.8h0M108.2 354.5h0M108.6 347.5h0M114.8 337.9h0M101.4 333.4h0M97.5 328.1h0M106.0 356.1h0M113.5 347.2h0M99.3 340.5h0M99.7 344.6h0M103.0 355.2h0M98.5 349.6h0M129.5 352.3h0M98.2 355.5h0M103.9 351.4h0M102.9 345.5h0M98.2 316.2h0M117.2 350.3h0M101.8 344.4h0M115.0 337.2h0M127.4 353.3h0M97.6 344.3h0M116.0 348.9h0M104.2 317.8h0M99.4 350.4h0M102.8 348.0h0M129.8 332.9h0M113.5 344.5h0M98.6 351.3h0M106.1 335.5h0M98.5 343.9h0M99.0 353.3h0M109.4 353.8h0M119.4 353.1h0M104.6 352.0h0M97.5 350.3h0M101.6 316.2h0M100.0 328.3h0M105.2 353.0h0M98.6 340.0h0M98.6 305.3h0M99.9 346.3h0M125.1 355.0h0M101.3 299.5h0M119.3 329.2h0M108.0 348.7h0M109.2 344.8h0M104.5 345.4h0M97.8 348.2h0M101.0 301.7h0M120.4 339.5h0M101.3 351.9h0M102.7 354.5h0M100.5 346.1h0M119.3 322.9h0M103.7 350.8h0M105.8 355.8h0M108.3 354.6h0M100.7 294.4h0M97.9 339.9h0M109.9 353.2h0M114.6 349.9h0M99.9 327.0h0M98.6 332.6h0M126.1 291.1h0M98.6 355.1h0M109.8 354.5h0M102.9 333.8h0M101.5 342.3h0M108.6 320.1h0M103.1 354.4h0M106.8 336.0h0M97.6 335.8h0M98.1 335.7h0M119.6 350.1h0M99.7 329.7h0M124.9 344.8h0M102.5 347.1h0M103.6 328.9h0M98.7 337.4h0M99.7 334.9h0M101.9 293.0h0M108.8 333.1h0M121.2 355.7h0M99.7 343.9h0M104.9 344.2h0M101.6 328.4h0M98.7 327.3h0M99.7 341.9h0M112.4 329.6h0M105.8 313.8h0M103.0 337.5h0M115.1 353.0h0M98.2 345.2h0M99.6 352.3h0M103.6 332.0h0M103.0 317.0h0M123.5 353.1h0M101.9 351.3h0M98.8 354.4h0M99.0 355.8h0M98.8 327.1h0M111.0 339.9h0M98.1 321.9h0M98.8 343.4h0M107.1 334.1h0M97.5 345.4h0M110.9 318.1h0M99.0 343.9h0M111.3 312.5h0M105.4 342.5h0M101.4 345.6h0M100.5 348.2h0M98.2 347.4h0M99.3 338.6h0M100.9 335.4h0M104.6 351.1h0M125.8 350.8h0M98.4 329.3h0M110.0 344.0h0M100.2 349.6h0M98.3 324.9h0M99.3 351.8h0M97.8 342.5h0M108.6 351.7h0M98.5 339.1h0M101.3 353.6h0M105.5 337.9h0M101.1 354.8h0M102.6 353.6h0M99.3 343.1h0M115.7 356.0h0M105.1 321.1h0M99.1 349.0h0M101.1 341.9h0M99.4 352.5h0M109.5 356.1h0M101.4 311.3h0M103.9 347.7h0M99.8 338.8h0M101.1 343.2h0M117.2 349.9h0M107.3 354.5h0M100.5 350.0h0M102.8 355.5h0M102.8 348.8h0M108.1 346.3h0M99.3 308.8h0M110.0 355.9h0M116.9 326.5h0M106.1 354.8h0M110.4 315.1h0M100.4 335.3h0M101.4 339.1h0M101.4 349.3h0M105.1 355.8h0M108.2 312.7h0M102.0 351.7h0M126.1 354.2h0M99.1 349.1h0M98.8 287.9h0M109.4 336.9h0M98.7 341.4h0M99.3 330.9h0M108.3 355.1h0M98.7 296.3h0M129.9 355.1h0M114.6 341.5h0M98.2 355.1h0M105.8 331.6h0M109.8 350.6h0M111.5 296.6h0M100.0 347.1h0M101.7 344.9h0M98.2 311.0h0M101.6 355.8h0M100.6 315.3h0M98.9 348.8h0M101.5 354.8h0M98.5 343.4h0M98.3 317.7h0M101.1 351.5h0M105.7 309.8h0M108.4 355.5h0M103.3 333.5h0M103.2 317.5h0M102.9 340.4h0M97.6 336.8h0M146.2 352.1h0M103.7 354.4h0M120.7 342.4h0M104.9 355.7h0M139.9 344.9h0M112.7 356.0h0M99.3 345.1h0M108.4 340.6h0M98.4 351.1h0M99.1 342.4h0M100.6 309.6h0M103.0 354.0h0M97.7 304.7h0M138.4 350.7h0M98.7 287.6h0M100.6 348.2h0M106.9 344.4h0M100.4 310.4h0M105.3 346.5h0M119.9 349.5h0M99.2 353.3h0M102.6 328.4h0M98.2 353.1h0M109.8 344.8h0M100.6 341.3h0M113.9 321.6h0M107.6 339.0h0M101.2 330.9h0M114.0 343.9h0M98.9 308.4h0M130.1 355.1h0M112.4 352.8h0M97.7 337.4h0M98.9 347.1h0M118.0 352.4h0M117.0 345.7h0M111.6 353.8h0M98.6 311.2h0M103.6 347.0h0M97.7 349.4h0M100.2 340.7h0M99.0 351.7h0M97.7 338.4h0M106.3 333.2h0M134.3 350.5h0M107.4 347.2h0M104.4 347.4h0M134.9 350.8h0M105.8 345.9h0M120.6 355.4h0M116.5 346.3h0M99.9 343.7h0M104.5 354.0h0M132.6 354.1h0M111.0 353.0h0M102.0 329.4h0M102.3 341.0h0M100.3 335.7h0M106.0 316.2h0M103.9 353.6h0M101.4 317.1h0M99.2 318.7h0M102.7 354.0h0M113.5 352.8h0M118.7 355.0h0M102.7 328.8h0M119.9 317.5h0M97.6 323.6h0M98.3 355.4h0M105.2 355.7h0M97.9 336.0h0M110.3 322.0h0M126.1 353.6h0M102.2 347.2h0M109.4 330.1h0M101.5 351.0h0M114.9 355.1h0M107.6 350.2h0M111.8 329.0h0M104.8 333.9h0M112.5 333.5h0M101.3 350.4h0M100.2 350.9h0M103.5 316.9h0M98.6 350.7h0M109.3 337.3h0M116.6 345.9h0M100.2 355.5h0M111.3 332.2h0M100.0 351.1h0M98.2 321.7h0M98.8 333.5h0M98.2 329.2h0M99.5 334.4h0M106.3 321.2h0M101.2 346.6h0M101.7 340.4h0M110.2 317.3h0M99.5 330.0h0M101.5 333.5h0M98.6 339.8h0M106.5 333.0h0M102.8 348.5h0M103.7 329.1h0M119.3 337.0h0M98.4 347.4h0M103.8 327.0h0M112.7 325.0h0M100.2 336.1h0M106.6 336.7h0M98.3 340.6h0M98.4 354.2h0M103.3 352.7h0M100.5 355.6h0M114.6 308.0h0M109.7 356.1h0M101.5 349.6h0M102.0 314.3h0M147.4 352.7h0M107.4 339.9h0M98.7 322.1h0M127.9 345.8h0M107.5 353.7h0M106.3 354.6h0M99.9 318.9h0M99.5 340.0h0M114.5 349.5h0M98.7 350.0h0M99.5 332.4h0M123.0 355.6h0M109.7 342.1h0M100.9 351.5h0M98.7 325.5h0M107.4 355.2h0M99.9 353.4h0M98.7 304.5h0M98.3 345.0h0M97.8 327.8h0M99.7 318.9h0M105.2 349.3h0M98.0 347.4h0M103.3 342.0h0M104.3 356.0h0M106.9 322.9h0M100.3 337.9h0M111.2 350.6h0M124.0 352.0h0M98.0 347.4h0M99.6 317.2h0M106.2 354.1h0M114.6 354.3h0M107.3 354.5h0M99.5 354.1h0M119.6 352.5h0M99.7 310.4h0M102.1 330.1h0M112.5 344.7h0M105.0 353.8h0M101.2 347.1h0M97.9 342.9h0M130.7 329.3h0M147.4 350.7h0M98.2 327.5h0M101.6 313.3h0M116.4 354.0h0M104.0 354.5h0M107.2 336.9h0M109.2 355.7h0M99.2 338.5h0M117.3 348.7h0M117.8 313.4h0M112.6 345.0h0M101.5 337.4h0M107.5 348.6h0M110.3 316.7h0M100.0 348.2h0M111.2 353.4h0M104.7 355.6h0M118.2 348.2h0M97.8 323.5h0M102.1 347.4h0M103.1 330.4h0M118.9 351.2h0M105.0 355.6h0M101.9 339.8h0M103.0 341.4h0M121.8 324.1h0M105.7 355.0h0M112.8 345.1h0M98.6 314.5h0M121.7 350.3h0M109.0 345.5h0M117.7 350.5h0M118.5 352.3h0M105.4 349.5h0M112.5 324.3h0M108.2 338.9h0M100.0 341.6h0M131.4 347.3h0M117.2 351.8h0M109.2 341.4h0M98.1 342.3h0M102.0 328.7h0M100.2 348.9h0M108.9 331.7h0M100.0 351.9h0M115.9 349.7h0M139.5 353.7h0M107.4 351.3h0M113.2 342.6h0M102.1 344.4h0M111.9 341.8h0M98.0 335.3h0M100.1 349.6h0M106.3 319.2h0M101.0 349.3h0M107.0 352.5h0M99.0 312.6h0M99.9 350.3h0M132.1 353.5h0M107.4 331.2h0M99.4 347.2h0M103.1 351.2h0M107.7 332.2h0M111.8 347.0h0M110.9 349.5h0M102.6 345.5h0M110.2 292.4h0M102.0 353.7h0M107.1 350.2h0M110.1 348.7h0M100.9 355.1h0M109.2 355.3h0M100.6 285.4h0M107.3 335.2h0M100.7 302.9h0M104.0 294.6h0M105.3 335.6h0M100.0 343.3h0M98.1 330.9h0M97.9 336.5h0M119.4 344.7h0M104.1 313.5h0M105.6 320.1h0M98.0 342.4h0M100.2 352.1h0M107.9 324.2h0M98.0 351.1h0M116.2 311.7h0M102.3 322.5h0M127.3 351.5h0M107.1 340.6h0M104.3 355.4h0M103.5 328.4h0M107.6 353.2h0M105.2 355.5h0M114.1 343.8h0M99.1 351.2h0M97.6 343.2h0M107.0 341.2h0M103.7 287.1h0M104.0 352.9h0M111.0 339.3h0M104.5 355.6h0M115.4 346.0h0M121.4 329.6h0M109.7 334.9h0M106.5 352.5h0M116.6 344.2h0M99.6 343.4h0M99.1 345.7h0M105.6 349.4h0M100.8 354.3h0M99.3 318.7h0M100.9 346.4h0M111.8 340.7h0M99.3 290.5h0M100.5 350.6h0M100.2 347.1h0M100.1 352.2h0M104.4 335.4h0M114.2 351.8h0M103.1 325.7h0M100.3 342.3h0M118.6 352.6h0M99.6 333.4h0M100.4 347.5h0M100.7 353.1h0M102.5 346.3h0M104.7 346.7h0M117.1 351.6h0M99.5 317.7h0M106.1 355.1h0M128.4 352.3h0M104.9 334.0h0M103.4 341.7h0M108.8 323.5h0M102.4 355.2h0M103.2 342.4h0M100.0 289.5h0M104.8 342.7h0M101.2 336.4h0M126.6 346.1h0M129.1 355.5h0M104.0 340.3h0M100.7 329.9h0M104.5 354.5h0M100.0 351.0h0M105.8 289.8h0M111.7 323.7h0M104.5 347.3h0M111.3 345.2h0M107.5 305.3h0M119.4 344.6h0M104.7 345.3h0M117.5 312.3h0M123.2 350.7h0M99.6 343.4h0M102.3 341.3h0M99.8 335.2h0M100.4 348.9h0M99.7 342.4h0M121.9 333.1h0M106.4 347.1h0M98.0 352.0h0M102.5 354.0h0M99.8 339.0h0M116.8 352.5h0M102.1 345.2h0M140.7 355.9h0M103.0 332.7h0M104.6 314.3h0M103.2 350.9h0M107.0 323.0h0M103.6 297.7h0M98.0 334.1h0M101.3 349.9h0M102.0 333.4h0M100.7 311.9h0M113.1 298.5h0M114.9 353.8h0M103.4 335.7h0M105.3 345.6h0M105.3 350.7h0M118.4 341.7h0M105.6 353.1h0M98.8 308.7h0M99.8 351.5h0M102.2 345.9h0M99.4 352.1h0M103.6 349.1h0M103.5 341.7h0M108.8 355.3h0M113.1 352.3h0M115.5 349.2h0M111.4 336.2h0M116.4 337.1h0M118.7 345.3h0M110.0 350.1h0M99.0 333.8h0M101.9 349.7h0M98.5 342.6h0M98.6 329.9h0M98.3 338.4h0M97.6 327.2h0M100.9 355.6h0M128.1 342.8h0M100.0 354.7h0M110.3 355.6h0M110.7 306.4h0M98.3 344.4h0M107.3 351.7h0M104.4 326.1h0M97.7 350.6h0M98.1 336.4h0M116.2 319.5h0M112.4 337.3h0M100.8 353.1h0M97.8 339.9h0M100.3 337.9h0M99.6 354.7h0M110.8 352.6h0M98.3 337.7h0M117.6 353.0h0M98.8 342.8h0M102.7 355.9h0M97.9 341.6h0M100.9 328.7h0M104.7 352.7h0M101.6 354.9h0M100.8 350.0h0M99.8 326.2h0M105.9 319.9h0M146.3 344.6h0M112.2 351.5h0M98.8 336.0h0M104.6 354.8h0M107.0 342.4h0M108.2 337.2h0M102.3 340.0h0M114.4 354.1h0M120.3 345.8h0M101.2 337.6h0M99.3 341.5h0M126.2 347.3h0M103.6 351.5h0M107.1 342.1h0M103.9 282.6h0M110.5 353.8h0M115.5 352.7h0M110.9 335.8h0M106.8 341.8h0M105.9 354.4h0M100.1 353.3h0M98.4 351.2h0M98.0 341.9h0M101.0 313.2h0M98.6 346.2h0M104.7 349.5h0M101.8 332.4h0M115.4 342.8h0M108.2 350.5h0M107.6 344.4h0M99.6 302.0h0M99.1 341.7h0M119.5 343.9h0M112.4 351.6h0M102.4 344.0h0M124.4 353.9h0M104.9 331.4h0M99.2 301.2h0M114.4 327.5h0M97.7 337.5h0M99.5 338.1h0M115.2 347.2h0M104.4 285.7h0M104.5 338.1h0M114.3 350.8h0M99.2 318.6h0M104.1 330.2h0M101.1 346.2h0M136.7 355.2h0M109.9 354.7h0M98.7 334.3h0M136.4 343.9h0M98.5 333.4h0M130.5 355.9h0M111.7 347.1h0M99.5 336.1h0M99.2 348.6h0M122.6 346.6h0M98.5 316.5h0M119.8 331.3h0M99.4 318.9h0M103.1 328.5h0M103.6 331.7h0M98.5 347.8h0M118.6 336.3h0M101.9 355.6h0M100.5 352.3h0M104.6 353.1h0M99.1 354.3h0M97.6 330.1h0M121.8 343.3h0M99.2 353.8h0M119.7 342.6h0M113.6 341.6h0M100.9 329.8h0M100.0 304.4h0M98.9 353.2h0M103.7 347.7h0M112.3 330.1h0M97.7 341.8h0M101.5 343.6h0M121.2 346.3h0M98.0 347.4h0M117.8 355.6h0M113.9 351.0h0M104.1 330.1h0M97.9 352.0h0M106.9 348.4h0M99.3 303.7h0M101.0 345.5h0M102.1 326.0h0M115.9 348.9h0M117.2 282.1h0M98.4 329.9h0M107.6 333.4h0M136.6 351.9h0M104.2 330.2h0M99.1 347.4h0M137.8 353.4h0M103.2 352.1h0M105.1 346.4h0M102.0 352.1h0M119.1 355.8h0M102.8 347.1h0M101.3 354.0h0M109.2 334.8h0M101.2 339.6h0M107.7 337.5h0M107.6 343.7h0M101.3 332.0h0M117.5 337.9h0M98.2 321.6h0M106.9 317.1h0M98.0 354.0h0M104.1 343.6h0M117.6 340.6h0M106.8 316.6h0M98.9 347.3h0M98.1 326.9h0M106.8 323.8h0M103.1 342.9h0M97.8 340.0h0M98.6 338.3h0M101.5 353.5h0M111.7 353.7h0M99.9 353.8h0M120.5 354.3h0M106.7 342.2h0M119.7 339.3h0M112.4 348.3h0M100.6 345.2h0M103.3 336.4h0M101.8 348.7h0M116.4 328.1h0M101.9 331.7h0M98.6 349.2h0M104.3 324.1h0M105.2 343.1h0M98.1 333.7h0M124.2 345.3h0M109.2 345.2h0M102.2 348.9h0M102.4 324.5h0M108.0 348.9h0M102.5 336.2h0M103.3 348.8h0M110.3 304.3h0M106.1 332.6h0M98.8 334.9h0M106.1 346.8h0M104.4 341.8h0M120.7 351.8h0M117.2 355.1h0M101.0 343.0h0M106.3 332.7h0M100.6 354.7h0M99.3 338.8h0M105.6 341.4h0M114.5 347.5h0M102.4 351.2h0M122.4 344.5h0M98.3 335.4h0M106.8 309.4h0M98.2 343.8h0M104.2 336.0h0M109.2 331.4h0M104.8 334.2h0M109.2 348.3h0M111.3 336.9h0M121.4 350.2h0M105.0 346.9h0M109.6 344.4h0M129.6 351.4h0M110.3 354.6h0M121.4 351.8h0M105.6 349.1h0M98.8 296.1h0M103.3 348.9h0M113.6 347.9h0M108.8 346.9h0M121.0 346.1h0M100.0 351.4h0M97.5 317.4h0M101.4 337.1h0M101.7 292.4h0M98.7 355.3h0M98.2 340.8h0M121.6 346.9h0M104.3 337.9h0M102.9 346.5h0M99.2 337.2h0M99.9 346.5h0M133.5 353.1h0M97.8 329.0h0M107.1 333.9h0M97.8 345.8h0M119.7 326.4h0M98.6 348.1h0M101.7 353.4h0M102.2 348.3h0M108.2 330.9h0M106.4 339.5h0M109.4 340.0h0M98.7 341.6h0M116.2 331.8h0M117.7 353.2h0M100.7 344.6h0M97.6 328.0h0M109.5 346.9h0M99.7 350.4h0M100.3 353.6h0M130.5 354.1h0M97.8 350.1h0M104.7 353.9h0M113.8 313.6h0M110.3 328.0h0M115.2 349.9h0M101.7 347.1h0M114.4 332.8h0M98.3 318.3h0M127.4 351.8h0M97.8 327.3h0M99.8 299.5h0M98.0 346.1h0M106.3 317.3h0M105.4 344.6h0M121.7 352.6h0M99.9 341.0h0M101.8 348.7h0M107.9 338.3h0M99.2 333.0h0M104.6 355.5h0M100.3 356.0h0M105.6 350.9h0M98.1 320.9h0M97.8 312.8h0M101.9 348.7h0M101.7 350.0h0M108.0 287.9h0M102.7 338.5h0M100.8 330.6h0M102.7 349.3h0M99.0 352.6h0M107.5 349.9h0M128.8 312.2h0M101.2 347.0h0M112.8 348.9h0M102.0 322.7h0M111.6 346.0h0M98.8 329.2h0M109.0 343.9h0M105.7 354.8h0M106.4 317.2h0M107.8 350.3h0M101.8 351.7h0M104.7 330.7h0M101.6 352.6h0M98.8 353.4h0M118.8 312.3h0M97.9 354.8h0M139.8 348.0h0M109.9 327.3h0M100.4 295.2h0M145.6 351.3h0M102.4 350.5h0M108.1 349.2h0M103.6 356.0h0M105.5 350.3h0M118.6 335.6h0M97.7 343.4h0M97.6 351.7h0M102.7 350.9h0M101.4 338.2h0M99.0 349.2h0M121.4 350.2h0M101.7 331.1h0M101.7 352.6h0M116.1 349.0h0M101.9 329.2h0M98.7 343.7h0M104.2 325.2h0M98.4 350.4h0M107.6 336.4h0M114.2 352.0h0M105.8 339.8h0M103.8 353.8h0M103.6 353.8h0M106.6 342.9h0M102.6 340.5h0M114.7 342.3h0M97.7 309.5h0M110.8 332.9h0M114.3 353.4h0M105.3 312.3h0M98.7 332.4h0M98.7 355.6h0M102.6 347.8h0M101.8 355.8h0M101.4 332.6h0M99.3 351.9h0M99.2 343.0h0M97.8 344.4h0M121.0 355.6h0M98.6 336.9h0M107.0 344.2h0M102.2 345.1h0M103.9 319.5h0M108.2 352.9h0M109.3 343.3h0M111.6 349.2h0M116.5 355.5h0M104.3 330.7h0M101.0 355.1h0M104.0 329.4h0M107.9 348.3h0M98.7 343.9h0M103.7 286.0h0M98.7 343.5h0M106.7 316.9h0M106.6 337.2h0M107.4 340.6h0M100.4 305.8h0M103.1 355.2h0M101.8 347.5h0M111.0 335.9h0M100.9 305.7h0M107.6 343.8h0M108.2 353.0h0M114.9 352.0h0M131.6 329.1h0M102.3 339.9h0M142.0 348.5h0M122.4 352.5h0M100.0 338.5h0M98.0 352.1h0M108.5 331.8h0M105.6 345.8h0M100.6 354.5h0M102.4 333.9h0M113.5 347.0h0M105.1 348.6h0M102.4 341.8h0M104.4 290.1h0M134.7 347.8h0M118.5 335.6h0M105.0 342.2h0M104.3 350.1h0M106.0 351.1h0M101.8 345.2h0M104.0 342.1h0M107.6 346.5h0M105.8 320.0h0M106.6 346.0h0M113.1 331.5h0M98.5 314.9h0M105.1 355.3h0M98.1 287.5h0M102.2 305.3h0M115.5 354.4h0M99.2 323.2h0M105.6 352.3h0M118.7 341.2h0M98.7 331.5h0M108.8 354.9h0M99.4 341.3h0M104.2 353.0h0M97.8 353.2h0M107.9 307.9h0M111.5 334.2h0M99.8 329.6h0M101.4 353.2h0M105.1 305.9h0M108.9 354.8h0M98.7 351.3h0M101.7 346.9h0M99.7 345.9h0M99.1 340.1h0M111.5 290.3h0M99.4 339.3h0M110.9 342.6h0M101.4 318.5h0M106.7 342.2h0" stroke="#ee1414" stroke-width="0.75" stroke-linecap="round" fill="none" opacity="1.0"/>
<text x="63.10" y="271.30" font-size="2.2" textLength="6.60" lengthAdjust="spacingAndGlyphs" fill="#4040ff">Pcdhg</text>
<text x="66.20" y="274.60" font-size="2.2" textLength="7.60" lengthAdjust="spacingAndGlyphs" fill="#4040ff">Hist1h2</text>
<text x="62.10" y="277.90" font-size="2.2" textLength="7.60" lengthAdjust="spacingAndGlyphs" fill="#4040ff">Xist4</text>
<text x="82.90" y="285.00" font-size="2.2" textLength="7.60" lengthAdjust="spacingAndGlyphs" fill="#4040ff">Rps27a</text>
<text x="70.70" y="285.00" font-size="2.2" textLength="6.10" lengthAdjust="spacingAndGlyphs" fill="#4040ff">Hmgc</text>
<text x="66.20" y="289.10" font-size="2.2" textLength="7.10" lengthAdjust="spacingAndGlyphs" fill="#4040ff">Ccnd1</text>
<text x="61.90" y="291.10" font-size="2.2" textLength="3.30" lengthAdjust="spacingAndGlyphs" fill="#4040ff">Tlr</text>
<text x="70.00" y="291.80" font-size="2.2" textLength="6.30" lengthAdjust="spacingAndGlyphs" fill="#4040ff">Ddx3y</text>
<text x="66.20" y="295.20" font-size="2.2" textLength="5.60" lengthAdjust="spacingAndGlyphs" fill="#4040ff">Eif2</text>
<text x="76.80" y="295.50" font-size="2.2" textLength="6.10" lengthAdjust="spacingAndGlyphs" fill="#4040ff">Kdm5d</text>
<text x="111.40" y="205.30" font-size="2.2" textLength="6.20" lengthAdjust="spacingAndGlyphs" fill="#ff4040">Sgtb</text>
<text x="107.40" y="242.00" font-size="2.2" textLength="8.60" lengthAdjust="spacingAndGlyphs" fill="#ff4040">Ptprd2</text>
<text x="109.90" y="257.80" font-size="2.2" textLength="5.80" lengthAdjust="spacingAndGlyphs" fill="#ff4040">Spp1</text>
<text x="107.90" y="261.20" font-size="2.2" textLength="5.40" lengthAdjust="spacingAndGlyphs" fill="#ff4040">Sbb</text>
<text x="115.70" y="260.00" font-size="2.2" textLength="6.80" lengthAdjust="spacingAndGlyphs" fill="#ff4040">Cstb</text>
<text x="129.90" y="259.50" font-size="2.2" textLength="7.30" lengthAdjust="spacingAndGlyphs" fill="#ff4040">Ptpn22</text>
<text x="123.00" y="263.20" font-size="2.2" textLength="7.30" lengthAdjust="spacingAndGlyphs" fill="#ff4040">Ocln</text>
<text x="112.80" y="267.10" font-size="2.2" textLength="7.80" lengthAdjust="spacingAndGlyphs" fill="#ff4040">Plaa</text>
<text x="120.60" y="271.00" font-size="2.2" textLength="6.30" lengthAdjust="spacingAndGlyphs" fill="#ff4040">Uhrf</text>
<text x="111.80" y="274.20" font-size="2.2" textLength="5.90" lengthAdjust="spacingAndGlyphs" fill="#ff4040">Tyr</text>
<path d="M111.0 206.0h0" stroke="#ee1010" stroke-width="0.8" stroke-linecap="round" fill="none" opacity="1.0"/>
<path d="M107.0 243.0h0" stroke="#ee1010" stroke-width="0.8" stroke-linecap="round" fill="none" opacity="1.0"/>
<path d="M110.5 262.0h0" stroke="#ee1010" stroke-width="0.8" stroke-linecap="round" fill="none" opacity="1.0"/>
<path d="M113.0 268.5h0" stroke="#ee1010" stroke-width="0.8" stroke-linecap="round" fill="none" opacity="1.0"/>
<path d="M112.0 276.0h0" stroke="#ee1010" stroke-width="0.8" stroke-linecap="round" fill="none" opacity="1.0"/>
<path d="M121.0 272.0h0" stroke="#ee1010" stroke-width="0.8" stroke-linecap="round" fill="none" opacity="1.0"/>
<path d="M130.0 263.0h0" stroke="#ee1010" stroke-width="0.8" stroke-linecap="round" fill="none" opacity="1.0"/>
<path d="M176.5 278.0h0" stroke="#1010ee" stroke-width="0.8" stroke-linecap="round" fill="none" opacity="1.0"/>
<text x="180.50" y="278.90" font-size="2.6" fill="#444">DOWN</text>
<path d="M176.5 283.0h0" stroke="#b8b8b8" stroke-width="0.8" stroke-linecap="round" fill="none" opacity="1.0"/>
<text x="180.50" y="283.90" font-size="2.6" fill="#444">NOT</text>
<path d="M176.5 288.0h0" stroke="#ee1010" stroke-width="0.8" stroke-linecap="round" fill="none" opacity="1.0"/>
<text x="180.50" y="288.90" font-size="2.6" fill="#444">UP</text>
<text x="205.80" y="184.50" font-size="7.4" font-weight="bold" stroke="#000" stroke-width="0.2" fill="#000">D</text>
<rect x="224.00" y="194.60" width="10.32" height="8.38" fill="#6868F0"/>
<rect x="233.62" y="194.60" width="10.32" height="8.38" fill="#6464EC"/>
<rect x="243.23" y="194.60" width="10.32" height="8.38" fill="#4848E4"/>
<rect x="252.85" y="194.60" width="10.32" height="8.38" fill="#2020D8"/>
<rect x="262.47" y="194.60" width="10.32" height="8.38" fill="#5050E0"/>
<rect x="272.08" y="194.60" width="10.32" height="8.38" fill="#0808C8"/>
<rect x="281.70" y="194.60" width="10.32" height="8.38" fill="#F84848"/>
<rect x="291.32" y="194.60" width="10.32" height="8.38" fill="#F84848"/>
<rect x="300.93" y="194.60" width="10.32" height="8.38" fill="#F82828"/>
<rect x="310.55" y="194.60" width="10.32" height="8.38" fill="#F83030"/>
<rect x="320.17" y="194.60" width="10.32" height="8.38" fill="#F84444"/>
<rect x="329.78" y="194.60" width="9.62" height="8.38" fill="#F82C2C"/>
<rect x="224.00" y="202.28" width="10.32" height="8.38" fill="#5050E4"/>
<rect x="233.62" y="202.28" width="10.32" height="8.38" fill="#4040E0"/>
<rect x="243.23" y="202.28" width="10.32" height="8.38" fill="#4848E0"/>
<rect x="252.85" y="202.28" width="10.32" height="8.38" fill="#4040DC"/>
<rect x="262.47" y="202.28" width="10.32" height="8.38" fill="#3030D8"/>
<rect x="272.08" y="202.28" width="10.32" height="8.38" fill="#2828D4"/>
<rect x="281.70" y="202.28" width="10.32" height="8.38" fill="#FF1818"/>
<rect x="291.32" y="202.28" width="10.32" height="8.38" fill="#F84848"/>
<rect x="300.93" y="202.28" width="10.32" height="8.38" fill="#F87878"/>
<rect x="310.55" y="202.28" width="10.32" height="8.38" fill="#F84040"/>
<rect x="320.17" y="202.28" width="10.32" height="8.38" fill="#F84040"/>
<rect x="329.78" y="202.28" width="9.62" height="8.38" fill="#F85050"/>
<rect x="224.00" y="209.96" width="10.32" height="8.38" fill="#4040E0"/>
<rect x="233.62" y="209.96" width="10.32" height="8.38" fill="#4040DC"/>
<rect x="243.23" y="209.96" width="10.32" height="8.38" fill="#4444E0"/>
<rect x="252.85" y="209.96" width="10.32" height="8.38" fill="#6060E8"/>
<rect x="262.47" y="209.96" width="10.32" height="8.38" fill="#3838DC"/>
<rect x="272.08" y="209.96" width="10.32" height="8.38" fill="#2020D0"/>
<rect x="281.70" y="209.96" width="10.32" height="8.38" fill="#FF2828"/>
<rect x="291.32" y="209.96" width="10.32" height="8.38" fill="#F84848"/>
<rect x="300.93" y="209.96" width="10.32" height="8.38" fill="#F86C6C"/>
<rect x="310.55" y="209.96" width="10.32" height="8.38" fill="#F84040"/>
<rect x="320.17" y="209.96" width="10.32" height="8.38" fill="#FF1818"/>
<rect x="329.78" y="209.96" width="9.62" height="8.38" fill="#F85C5C"/>
<rect x="224.00" y="217.64" width="10.32" height="8.38" fill="#6060EC"/>
<rect x="233.62" y="217.64" width="10.32" height="8.38" fill="#4848E0"/>
<rect x="243.23" y="217.64" width="10.32" height="8.38" fill="#3C3CDC"/>
<rect x="252.85" y="217.64" width="10.32" height="8.38" fill="#4040E0"/>
<rect x="262.47" y="217.64" width="10.32" height="8.38" fill="#3838DC"/>
<rect x="272.08" y="217.64" width="10.32" height="8.38" fill="#1010C8"/>
<rect x="281.70" y="217.64" width="10.32" height="8.38" fill="#F84444"/>
<rect x="291.32" y="217.64" width="10.32" height="8.38" fill="#F83030"/>
<rect x="300.93" y="217.64" width="10.32" height="8.38" fill="#F85858"/>
<rect x="310.55" y="217.64" width="10.32" height="8.38" fill="#F83838"/>
<rect x="320.17" y="217.64" width="10.32" height="8.38" fill="#F84040"/>
<rect x="329.78" y="217.64" width="9.62" height="8.38" fill="#F84848"/>
<rect x="224.00" y="225.32" width="10.32" height="8.38" fill="#6868EC"/>
<rect x="233.62" y="225.32" width="10.32" height="8.38" fill="#4848E0"/>
<rect x="243.23" y="225.32" width="10.32" height="8.38" fill="#4040DC"/>
<rect x="252.85" y="225.32" width="10.32" height="8.38" fill="#1818D0"/>
<rect x="262.47" y="225.32" width="10.32" height="8.38" fill="#5050E4"/>
<rect x="272.08" y="225.32" width="10.32" height="8.38" fill="#3838D8"/>
<rect x="281.70" y="225.32" width="10.32" height="8.38" fill="#F85050"/>
<rect x="291.32" y="225.32" width="10.32" height="8.38" fill="#F84040"/>
<rect x="300.93" y="225.32" width="10.32" height="8.38" fill="#F86868"/>
<rect x="310.55" y="225.32" width="10.32" height="8.38" fill="#F84444"/>
<rect x="320.17" y="225.32" width="10.32" height="8.38" fill="#F83030"/>
<rect x="329.78" y="225.32" width="9.62" height="8.38" fill="#F84040"/>
<rect x="224.00" y="233.00" width="10.32" height="8.38" fill="#5C5CE8"/>
<rect x="233.62" y="233.00" width="10.32" height="8.38" fill="#5858E8"/>
<rect x="243.23" y="233.00" width="10.32" height="8.38" fill="#3030D8"/>
<rect x="252.85" y="233.00" width="10.32" height="8.38" fill="#2020D0"/>
<rect x="262.47" y="233.00" width="10.32" height="8.38" fill="#2C2CD8"/>
<rect x="272.08" y="233.00" width="10.32" height="8.38" fill="#4848E0"/>
<rect x="281.70" y="233.00" width="10.32" height="8.38" fill="#F84040"/>
<rect x="291.32" y="233.00" width="10.32" height="8.38" fill="#F84444"/>
<rect x="300.93" y="233.00" width="10.32" height="8.38" fill="#F86060"/>
<rect x="310.55" y="233.00" width="10.32" height="8.38" fill="#F83030"/>
<rect x="320.17" y="233.00" width="10.32" height="8.38" fill="#F82C2C"/>
<rect x="329.78" y="233.00" width="9.62" height="8.38" fill="#F84848"/>
<rect x="224.00" y="240.68" width="10.32" height="8.38" fill="#6868EC"/>
<rect x="233.62" y="240.68" width="10.32" height="8.38" fill="#5050E4"/>
<rect x="243.23" y="240.68" width="10.32" height="8.38" fill="#3C3CDC"/>
<rect x="252.85" y="240.68" width="10.32" height="8.38" fill="#2424D4"/>
<rect x="262.47" y="240.68" width="10.32" height="8.38" fill="#3838DC"/>
<rect x="272.08" y="240.68" width="10.32" height="8.38" fill="#2020D0"/>
<rect x="281.70" y="240.68" width="10.32" height="8.38" fill="#F84040"/>
<rect x="291.32" y="240.68" width="10.32" height="8.38" fill="#F85858"/>
<rect x="300.93" y="240.68" width="10.32" height="8.38" fill="#F85050"/>
<rect x="310.55" y="240.68" width="10.32" height="8.38" fill="#F83030"/>
<rect x="320.17" y="240.68" width="10.32" height="8.38" fill="#F83030"/>
<rect x="329.78" y="240.68" width="9.62" height="8.38" fill="#F85050"/>
<rect x="224.00" y="248.36" width="10.32" height="8.38" fill="#6060EC"/>
<rect x="233.62" y="248.36" width="10.32" height="8.38" fill="#4444E0"/>
<rect x="243.23" y="248.36" width="10.32" height="8.38" fill="#2828D4"/>
<rect x="252.85" y="248.36" width="10.32" height="8.38" fill="#3838DC"/>
<rect x="262.47" y="248.36" width="10.32" height="8.38" fill="#3838DC"/>
<rect x="272.08" y="248.36" width="10.32" height="8.38" fill="#5858E8"/>
<rect x="281.70" y="248.36" width="10.32" height="8.38" fill="#F83434"/>
<rect x="291.32" y="248.36" width="10.32" height="8.38" fill="#F84444"/>
<rect x="300.93" y="248.36" width="10.32" height="8.38" fill="#F84848"/>
<rect x="310.55" y="248.36" width="10.32" height="8.38" fill="#F84444"/>
<rect x="320.17" y="248.36" width="10.32" height="8.38" fill="#F85050"/>
<rect x="329.78" y="248.36" width="9.62" height="8.38" fill="#F83030"/>
<rect x="224.00" y="256.04" width="10.32" height="8.38" fill="#6060E8"/>
<rect x="233.62" y="256.04" width="10.32" height="8.38" fill="#5050E4"/>
<rect x="243.23" y="256.04" width="10.32" height="8.38" fill="#3C3CDC"/>
<rect x="252.85" y="256.04" width="10.32" height="8.38" fill="#6868EC"/>
<rect x="262.47" y="256.04" width="10.32" height="8.38" fill="#1010C8"/>
<rect x="272.08" y="256.04" width="10.32" height="8.38" fill="#3C3CDC"/>
<rect x="281.70" y="256.04" width="10.32" height="8.38" fill="#F83030"/>
<rect x="291.32" y="256.04" width="10.32" height="8.38" fill="#F83C3C"/>
<rect x="300.93" y="256.04" width="10.32" height="8.38" fill="#F86464"/>
<rect x="310.55" y="256.04" width="10.32" height="8.38" fill="#F83030"/>
<rect x="320.17" y="256.04" width="10.32" height="8.38" fill="#F83030"/>
<rect x="329.78" y="256.04" width="9.62" height="8.38" fill="#F86060"/>
<rect x="224.00" y="263.72" width="10.32" height="8.38" fill="#6464EC"/>
<rect x="233.62" y="263.72" width="10.32" height="8.38" fill="#5454E4"/>
<rect x="243.23" y="263.72" width="10.32" height="8.38" fill="#2020D0"/>
<rect x="252.85" y="263.72" width="10.32" height="8.38" fill="#6868EC"/>
<rect x="262.47" y="263.72" width="10.32" height="8.38" fill="#3838DC"/>
<rect x="272.08" y="263.72" width="10.32" height="8.38" fill="#3C3CDC"/>
<rect x="281.70" y="263.72" width="10.32" height="8.38" fill="#F85050"/>
<rect x="291.32" y="263.72" width="10.32" height="8.38" fill="#F83434"/>
<rect x="300.93" y="263.72" width="10.32" height="8.38" fill="#F86868"/>
<rect x="310.55" y="263.72" width="10.32" height="8.38" fill="#F84444"/>
<rect x="320.17" y="263.72" width="10.32" height="8.38" fill="#F82828"/>
<rect x="329.78" y="263.72" width="9.62" height="8.38" fill="#F82828"/>
<rect x="224.00" y="271.40" width="10.32" height="8.38" fill="#F86060"/>
<rect x="233.62" y="271.40" width="10.32" height="8.38" fill="#F85C5C"/>
<rect x="243.23" y="271.40" width="10.32" height="8.38" fill="#F84848"/>
<rect x="252.85" y="271.40" width="10.32" height="8.38" fill="#F85C5C"/>
<rect x="262.47" y="271.40" width="10.32" height="8.38" fill="#F84040"/>
<rect x="272.08" y="271.40" width="10.32" height="8.38" fill="#F84444"/>
<rect x="281.70" y="271.40" width="10.32" height="8.38" fill="#2020D4"/>
<rect x="291.32" y="271.40" width="10.32" height="8.38" fill="#5858E8"/>
<rect x="300.93" y="271.40" width="10.32" height="8.38" fill="#5C5CE8"/>
<rect x="310.55" y="271.40" width="10.32" height="8.38" fill="#3434DC"/>
<rect x="320.17" y="271.40" width="10.32" height="8.38" fill="#2020D0"/>
<rect x="329.78" y="271.40" width="9.62" height="8.38" fill="#8888F0"/>
<rect x="224.00" y="279.08" width="10.32" height="8.38" fill="#F86464"/>
<rect x="233.62" y="279.08" width="10.32" height="8.38" fill="#F86060"/>
<rect x="243.23" y="279.08" width="10.32" height="8.38" fill="#F85454"/>
<rect x="252.85" y="279.08" width="10.32" height="8.38" fill="#F83434"/>
<rect x="262.47" y="279.08" width="10.32" height="8.38" fill="#F83C3C"/>
<rect x="272.08" y="279.08" width="10.32" height="8.38" fill="#FF1818"/>
<rect x="281.70" y="279.08" width="10.32" height="8.38" fill="#2828D8"/>
<rect x="291.32" y="279.08" width="10.32" height="8.38" fill="#5050E4"/>
<rect x="300.93" y="279.08" width="10.32" height="8.38" fill="#6060E8"/>
<rect x="310.55" y="279.08" width="10.32" height="8.38" fill="#1C1CD0"/>
<rect x="320.17" y="279.08" width="10.32" height="8.38" fill="#4040E0"/>
<rect x="329.78" y="279.08" width="9.62" height="8.38" fill="#7C7CEC"/>
<rect x="224.00" y="286.76" width="10.32" height="8.38" fill="#F86060"/>
<rect x="233.62" y="286.76" width="10.32" height="8.38" fill="#F83838"/>
<rect x="243.23" y="286.76" width="10.32" height="8.38" fill="#FF2020"/>
<rect x="252.85" y="286.76" width="10.32" height="8.38" fill="#F84040"/>
<rect x="262.47" y="286.76" width="10.32" height="8.38" fill="#F84040"/>
<rect x="272.08" y="286.76" width="10.32" height="8.38" fill="#F87070"/>
<rect x="281.70" y="286.76" width="10.32" height="8.38" fill="#1414C8"/>
<rect x="291.32" y="286.76" width="10.32" height="8.38" fill="#6868EC"/>
<rect x="300.93" y="286.76" width="10.32" height="8.38" fill="#3030D8"/>
<rect x="310.55" y="286.76" width="10.32" height="8.38" fill="#2424D4"/>
<rect x="320.17" y="286.76" width="10.32" height="8.38" fill="#3C3CDC"/>
<rect x="329.78" y="286.76" width="9.62" height="8.38" fill="#9090F4"/>
<rect x="224.00" y="294.44" width="10.32" height="8.38" fill="#F84848"/>
<rect x="233.62" y="294.44" width="10.32" height="8.38" fill="#F84444"/>
<rect x="243.23" y="294.44" width="10.32" height="8.38" fill="#F82C2C"/>
<rect x="252.85" y="294.44" width="10.32" height="8.38" fill="#F84040"/>
<rect x="262.47" y="294.44" width="10.32" height="8.38" fill="#F84040"/>
<rect x="272.08" y="294.44" width="10.32" height="8.38" fill="#F87070"/>
<rect x="281.70" y="294.44" width="10.32" height="8.38" fill="#3C3CDC"/>
<rect x="291.32" y="294.44" width="10.32" height="8.38" fill="#6464EC"/>
<rect x="300.93" y="294.44" width="10.32" height="8.38" fill="#2828D4"/>
<rect x="310.55" y="294.44" width="10.32" height="8.38" fill="#2424D4"/>
<rect x="320.17" y="294.44" width="10.32" height="8.38" fill="#2828D4"/>
<rect x="329.78" y="294.44" width="9.62" height="8.38" fill="#9090F4"/>
<rect x="224.00" y="302.12" width="10.32" height="8.38" fill="#F84848"/>
<rect x="233.62" y="302.12" width="10.32" height="8.38" fill="#F85C5C"/>
<rect x="243.23" y="302.12" width="10.32" height="8.38" fill="#F83030"/>
<rect x="252.85" y="302.12" width="10.32" height="8.38" fill="#F84444"/>
<rect x="262.47" y="302.12" width="10.32" height="8.38" fill="#F84444"/>
<rect x="272.08" y="302.12" width="10.32" height="8.38" fill="#F87070"/>
<rect x="281.70" y="302.12" width="10.32" height="8.38" fill="#3C3CDC"/>
<rect x="291.32" y="302.12" width="10.32" height="8.38" fill="#6464EC"/>
<rect x="300.93" y="302.12" width="10.32" height="8.38" fill="#2828D4"/>
<rect x="310.55" y="302.12" width="10.32" height="8.38" fill="#2828D4"/>
<rect x="320.17" y="302.12" width="10.32" height="8.38" fill="#2828D4"/>
<rect x="329.78" y="302.12" width="9.62" height="8.38" fill="#9090F4"/>
<rect x="224.00" y="309.80" width="10.32" height="8.38" fill="#F86464"/>
<rect x="233.62" y="309.80" width="10.32" height="8.38" fill="#F83434"/>
<rect x="243.23" y="309.80" width="10.32" height="8.38" fill="#F83434"/>
<rect x="252.85" y="309.80" width="10.32" height="8.38" fill="#F84040"/>
<rect x="262.47" y="309.80" width="10.32" height="8.38" fill="#F84040"/>
<rect x="272.08" y="309.80" width="10.32" height="8.38" fill="#F86060"/>
<rect x="281.70" y="309.80" width="10.32" height="8.38" fill="#2424D4"/>
<rect x="291.32" y="309.80" width="10.32" height="8.38" fill="#6060E8"/>
<rect x="300.93" y="309.80" width="10.32" height="8.38" fill="#3C3CDC"/>
<rect x="310.55" y="309.80" width="10.32" height="8.38" fill="#4040E0"/>
<rect x="320.17" y="309.80" width="10.32" height="8.38" fill="#1010C8"/>
<rect x="329.78" y="309.80" width="9.62" height="8.38" fill="#9090F4"/>
<rect x="224.00" y="317.48" width="10.32" height="8.38" fill="#F86C6C"/>
<rect x="233.62" y="317.48" width="10.32" height="8.38" fill="#FF2424"/>
<rect x="243.23" y="317.48" width="10.32" height="8.38" fill="#F84444"/>
<rect x="252.85" y="317.48" width="10.32" height="8.38" fill="#FF1C1C"/>
<rect x="262.47" y="317.48" width="10.32" height="8.38" fill="#F84444"/>
<rect x="272.08" y="317.48" width="10.32" height="8.38" fill="#F85050"/>
<rect x="281.70" y="317.48" width="10.32" height="8.38" fill="#2828D4"/>
<rect x="291.32" y="317.48" width="10.32" height="8.38" fill="#5C5CE8"/>
<rect x="300.93" y="317.48" width="10.32" height="8.38" fill="#3C3CDC"/>
<rect x="310.55" y="317.48" width="10.32" height="8.38" fill="#3C3CDC"/>
<rect x="320.17" y="317.48" width="10.32" height="8.38" fill="#2828D4"/>
<rect x="329.78" y="317.48" width="9.62" height="8.38" fill="#8C8CF0"/>
<rect x="224.00" y="325.16" width="10.32" height="8.38" fill="#F85858"/>
<rect x="233.62" y="325.16" width="10.32" height="8.38" fill="#FF2828"/>
<rect x="243.23" y="325.16" width="10.32" height="8.38" fill="#F86C6C"/>
<rect x="252.85" y="325.16" width="10.32" height="8.38" fill="#FF2424"/>
<rect x="262.47" y="325.16" width="10.32" height="8.38" fill="#F84040"/>
<rect x="272.08" y="325.16" width="10.32" height="8.38" fill="#F86464"/>
<rect x="281.70" y="325.16" width="10.32" height="8.38" fill="#2424D4"/>
<rect x="291.32" y="325.16" width="10.32" height="8.38" fill="#6868EC"/>
<rect x="300.93" y="325.16" width="10.32" height="8.38" fill="#3838DC"/>
<rect x="310.55" y="325.16" width="10.32" height="8.38" fill="#3C3CDC"/>
<rect x="320.17" y="325.16" width="10.32" height="8.38" fill="#2424D0"/>
<rect x="329.78" y="325.16" width="9.62" height="8.38" fill="#9494F4"/>
<rect x="224.00" y="332.84" width="10.32" height="8.38" fill="#F86060"/>
<rect x="233.62" y="332.84" width="10.32" height="8.38" fill="#F83030"/>
<rect x="243.23" y="332.84" width="10.32" height="8.38" fill="#F84040"/>
<rect x="252.85" y="332.84" width="10.32" height="8.38" fill="#F84444"/>
<rect x="262.47" y="332.84" width="10.32" height="8.38" fill="#F85C5C"/>
<rect x="272.08" y="332.84" width="10.32" height="8.38" fill="#F84444"/>
<rect x="281.70" y="332.84" width="10.32" height="8.38" fill="#3434D8"/>
<rect x="291.32" y="332.84" width="10.32" height="8.38" fill="#4040E0"/>
<rect x="300.93" y="332.84" width="10.32" height="8.38" fill="#5C5CE8"/>
<rect x="310.55" y="332.84" width="10.32" height="8.38" fill="#5C5CE8"/>
<rect x="320.17" y="332.84" width="10.32" height="8.38" fill="#1C1CD0"/>
<rect x="329.78" y="332.84" width="9.62" height="8.38" fill="#7C7CEC"/>
<rect x="224.00" y="340.52" width="10.32" height="7.68" fill="#F86C6C"/>
<rect x="233.62" y="340.52" width="10.32" height="7.68" fill="#FF1C1C"/>
<rect x="243.23" y="340.52" width="10.32" height="7.68" fill="#F85C5C"/>
<rect x="252.85" y="340.52" width="10.32" height="7.68" fill="#FF2424"/>
<rect x="262.47" y="340.52" width="10.32" height="7.68" fill="#F86060"/>
<rect x="272.08" y="340.52" width="10.32" height="7.68" fill="#F83C3C"/>
<rect x="281.70" y="340.52" width="10.32" height="7.68" fill="#4848E0"/>
<rect x="291.32" y="340.52" width="10.32" height="7.68" fill="#4848E0"/>
<rect x="300.93" y="340.52" width="10.32" height="7.68" fill="#2020D0"/>
<rect x="310.55" y="340.52" width="10.32" height="7.68" fill="#3C3CDC"/>
<rect x="320.17" y="340.52" width="10.32" height="7.68" fill="#3C3CDC"/>
<rect x="329.78" y="340.52" width="9.62" height="7.68" fill="#8C8CF0"/>
<rect x="224.0" y="188.3" width="57.70" height="4.8" fill="#14d2d2"/>
<rect x="281.70" y="188.3" width="57.70" height="4.8" fill="#f5918a"/>
<text x="341.00" y="200.14" font-size="4.6" stroke="#222" stroke-width="0.06" fill="#222">C1qtnf3</text>
<text x="341.00" y="207.82" font-size="4.6" stroke="#222" stroke-width="0.06" fill="#222">Gpnmb</text>
<text x="341.00" y="215.50" font-size="4.6" stroke="#222" stroke-width="0.06" fill="#222">Fkbp10</text>
<text x="341.00" y="223.18" font-size="4.6" stroke="#222" stroke-width="0.06" fill="#222">Itga11</text>
<text x="341.00" y="230.86" font-size="4.6" stroke="#222" stroke-width="0.06" fill="#222">Csrp2</text>
<text x="341.00" y="238.54" font-size="4.6" stroke="#222" stroke-width="0.06" fill="#222">Efemp2</text>
<text x="341.00" y="246.22" font-size="4.6" stroke="#222" stroke-width="0.06" fill="#222">Dab2</text>
<text x="341.00" y="253.90" font-size="4.6" stroke="#222" stroke-width="0.06" fill="#222">Tgfb3</text>
<text x="341.00" y="261.58" font-size="4.6" stroke="#222" stroke-width="0.06" fill="#222">Col6a1</text>
<text x="341.00" y="269.26" font-size="4.6" stroke="#222" stroke-width="0.06" fill="#222">Acta2</text>
<text x="341.00" y="276.94" font-size="4.6" stroke="#222" stroke-width="0.06" fill="#222">Abcb10</text>
<text x="341.00" y="284.62" font-size="4.6" stroke="#222" stroke-width="0.06" fill="#222">Nt5c3</text>
<text x="341.00" y="292.30" font-size="4.6" stroke="#222" stroke-width="0.06" fill="#222">Snca</text>
<text x="341.00" y="299.98" font-size="4.6" stroke="#222" stroke-width="0.06" fill="#222">Hbb−b1</text>
<text x="341.00" y="307.66" font-size="4.6" stroke="#222" stroke-width="0.06" fill="#222">Hbb−bs</text>
<text x="341.00" y="315.34" font-size="4.6" stroke="#222" stroke-width="0.06" fill="#222">Arl4</text>
<text x="341.00" y="323.02" font-size="4.6" stroke="#222" stroke-width="0.06" fill="#222">Prx2a</text>
<text x="341.00" y="330.70" font-size="4.6" stroke="#222" stroke-width="0.06" fill="#222">Gmnn</text>
<text x="341.00" y="338.38" font-size="4.6" stroke="#222" stroke-width="0.06" fill="#222">Rnf167</text>
<text x="341.00" y="346.06" font-size="4.6" stroke="#222" stroke-width="0.06" fill="#222">Mkrn1</text>
<text x="341.00" y="192.40" font-size="4.6" font-weight="bold" textLength="23.00" lengthAdjust="spacingAndGlyphs" fill="#111">group_list</text>
<text transform="translate(226.91 350.5) rotate(90)" font-size="4.9" fill="#222" stroke="#222" stroke-width="0.05">WT1_Con</text>
<text transform="translate(236.53 350.5) rotate(90)" font-size="4.9" fill="#222" stroke="#222" stroke-width="0.05">WT2_Con</text>
<text transform="translate(246.14 350.5) rotate(90)" font-size="4.9" fill="#222" stroke="#222" stroke-width="0.05">WT3_Con</text>
<text transform="translate(255.76 350.5) rotate(90)" font-size="4.9" fill="#222" stroke="#222" stroke-width="0.05">WT4_Con</text>
<text transform="translate(265.38 350.5) rotate(90)" font-size="4.9" fill="#222" stroke="#222" stroke-width="0.05">WT5_Con</text>
<text transform="translate(274.99 350.5) rotate(90)" font-size="4.9" fill="#222" stroke="#222" stroke-width="0.05">WT6_Con</text>
<text transform="translate(284.61 350.5) rotate(90)" font-size="4.9" fill="#222" stroke="#222" stroke-width="0.05">WT1_Fracture</text>
<text transform="translate(294.23 350.5) rotate(90)" font-size="4.9" fill="#222" stroke="#222" stroke-width="0.05">WT2_Fracture</text>
<text transform="translate(303.84 350.5) rotate(90)" font-size="4.9" fill="#222" stroke="#222" stroke-width="0.05">WT3_Fracture</text>
<text transform="translate(313.46 350.5) rotate(90)" font-size="4.9" fill="#222" stroke="#222" stroke-width="0.05">WT4_Fracture</text>
<text transform="translate(323.07 350.5) rotate(90)" font-size="4.9" fill="#222" stroke="#222" stroke-width="0.05">WT5_Fracture</text>
<text transform="translate(332.69 350.5) rotate(90)" font-size="4.9" fill="#222" stroke="#222" stroke-width="0.05">WT6_Fracture</text>
<line x1="198.60" y1="212.50" x2="198.60" y2="301.60" stroke="#222" stroke-width="0.7"/>
<line x1="198.60" y1="212.50" x2="221.00" y2="212.50" stroke="#222" stroke-width="0.7"/>
<line x1="198.60" y1="301.60" x2="222.30" y2="301.60" stroke="#222" stroke-width="0.7"/>
<line x1="221.00" y1="197.94" x2="221.00" y2="267.56" stroke="#222" stroke-width="0.7"/>
<line x1="221.30" y1="198.44" x2="224.00" y2="198.44" stroke="#222" stroke-width="0.7"/>
<line x1="221.80" y1="206.12" x2="224.00" y2="206.12" stroke="#222" stroke-width="0.7"/>
<line x1="221.80" y1="213.80" x2="224.00" y2="213.80" stroke="#222" stroke-width="0.7"/>
<line x1="221.30" y1="221.48" x2="224.00" y2="221.48" stroke="#222" stroke-width="0.7"/>
<line x1="221.80" y1="229.16" x2="224.00" y2="229.16" stroke="#222" stroke-width="0.7"/>
<line x1="221.80" y1="236.84" x2="224.00" y2="236.84" stroke="#222" stroke-width="0.7"/>
<line x1="221.30" y1="244.52" x2="224.00" y2="244.52" stroke="#222" stroke-width="0.7"/>
<line x1="221.80" y1="252.20" x2="224.00" y2="252.20" stroke="#222" stroke-width="0.7"/>
<line x1="221.80" y1="259.88" x2="224.00" y2="259.88" stroke="#222" stroke-width="0.7"/>
<line x1="221.30" y1="267.56" x2="224.00" y2="267.56" stroke="#222" stroke-width="0.7"/>
<line x1="222.00" y1="198.44" x2="222.00" y2="229.16" stroke="#222" stroke-width="0.7"/>
<line x1="222.60" y1="236.84" x2="222.60" y2="267.56" stroke="#222" stroke-width="0.7"/>
<line x1="222.30" y1="275.24" x2="222.30" y2="344.36" stroke="#222" stroke-width="0.7"/>
<line x1="222.50" y1="275.24" x2="224.00" y2="275.24" stroke="#222" stroke-width="0.7"/>
<line x1="222.90" y1="282.92" x2="224.00" y2="282.92" stroke="#222" stroke-width="0.7"/>
<line x1="222.50" y1="290.60" x2="224.00" y2="290.60" stroke="#222" stroke-width="0.7"/>
<line x1="222.90" y1="298.28" x2="224.00" y2="298.28" stroke="#222" stroke-width="0.7"/>
<line x1="222.50" y1="305.96" x2="224.00" y2="305.96" stroke="#222" stroke-width="0.7"/>
<line x1="222.90" y1="313.64" x2="224.00" y2="313.64" stroke="#222" stroke-width="0.7"/>
<line x1="222.50" y1="321.32" x2="224.00" y2="321.32" stroke="#222" stroke-width="0.7"/>
<line x1="222.90" y1="329.00" x2="224.00" y2="329.00" stroke="#222" stroke-width="0.7"/>
<line x1="222.50" y1="336.68" x2="224.00" y2="336.68" stroke="#222" stroke-width="0.7"/>
<line x1="222.90" y1="344.36" x2="224.00" y2="344.36" stroke="#222" stroke-width="0.7"/>
<line x1="223.00" y1="282.92" x2="223.00" y2="313.64" stroke="#222" stroke-width="0.7"/>
<line x1="223.20" y1="321.32" x2="223.20" y2="344.36" stroke="#222" stroke-width="0.7"/>
<defs><linearGradient id="cb" x1="0" y1="0" x2="0" y2="1"><stop offset="0" stop-color="#ee1c1c"/><stop offset="0.5" stop-color="#ffffff"/><stop offset="1" stop-color="#1010c0"/></linearGradient></defs>
<rect x="365.0" y="187.7" width="5.0" height="72.1" fill="url(#cb)"/>
<text x="371.80" y="198.20" font-size="4.5" stroke="#222" stroke-width="0.06" fill="#222">1</text>
<text x="371.80" y="212.00" font-size="4.5" stroke="#222" stroke-width="0.06" fill="#222">0.5</text>
<text x="371.80" y="225.80" font-size="4.5" stroke="#222" stroke-width="0.06" fill="#222">0</text>
<text x="371.80" y="239.60" font-size="4.5" stroke="#222" stroke-width="0.06" fill="#222">−0.5</text>
<text x="371.80" y="253.40" font-size="4.5" stroke="#222" stroke-width="0.06" fill="#222">−1</text>
<text x="383.50" y="191.80" font-size="4.6" font-weight="bold" textLength="23.00" lengthAdjust="spacingAndGlyphs" fill="#111">group_list</text>
<rect x="383.3" y="192.6" width="7.2" height="7.4" fill="#14d2d2"/>
<rect x="383.3" y="200.0" width="7.2" height="7.0" fill="#f5918a"/>
<text x="392.00" y="198.50" font-size="4.6" stroke="#222" stroke-width="0.06" textLength="14.90" lengthAdjust="spacingAndGlyphs" fill="#222">Control</text>
<text x="392.00" y="205.20" font-size="4.6" stroke="#222" stroke-width="0.06" textLength="17.00" lengthAdjust="spacingAndGlyphs" fill="#222">Fracture</text>
</svg></body></html>
